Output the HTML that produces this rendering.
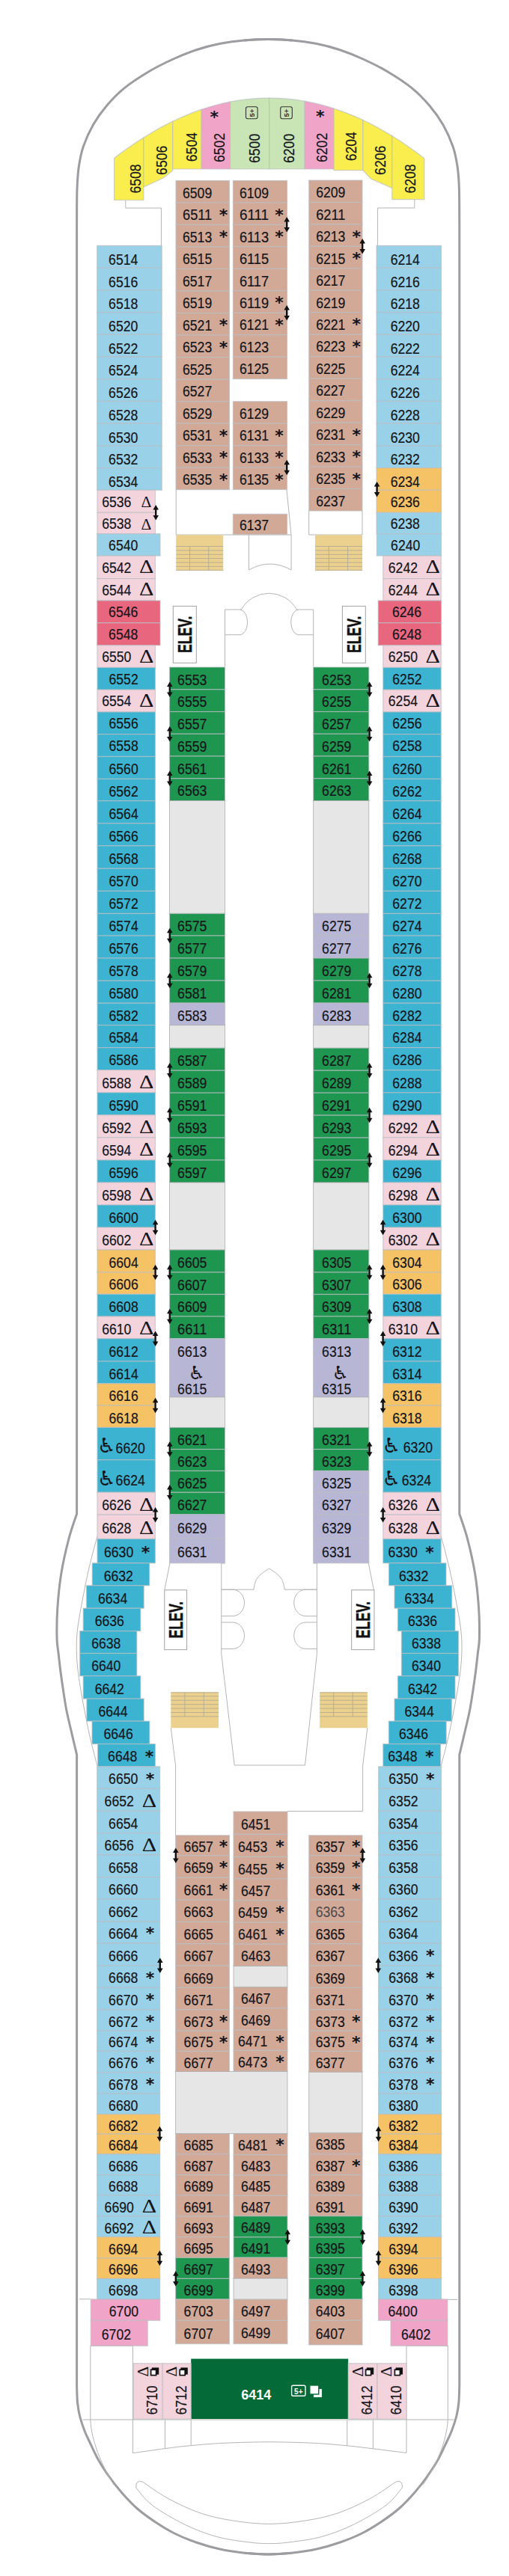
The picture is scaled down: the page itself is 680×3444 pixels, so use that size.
<!DOCTYPE html>
<html lang="en"><head><meta charset="utf-8"><title>Deck 6 plan</title>
<style>
html,body{margin:0;padding:0;background:#fff}
svg{display:block}
text{font-family:"Liberation Sans",sans-serif;fill:#15151a}
.n{font-size:20px;stroke:#15151a;stroke-width:.2px}
.dl{font-family:"Liberation Serif",serif;font-size:21.5px}
.as{font-family:"DejaVu Sans",sans-serif;font-size:22px;font-weight:bold}
.dl2{font-family:"Liberation Serif",serif;font-size:26px}
.wc{font-family:"DejaVu Sans",sans-serif;font-size:27.5px}
.wc2{font-family:"DejaVu Sans",sans-serif;font-size:25px}
.sm{font-size:9.5px;font-weight:bold;fill:#333}
.smw{font-size:10px;font-weight:bold;fill:#fff}
.wb{font-size:19px;font-weight:bold;fill:#fff}
.el{font-size:26px;font-weight:bold;fill:#111;stroke:#111;stroke-width:.5px}
.hull{fill:none;stroke:#9c9ca1;stroke-width:3}
.ln{fill:none;stroke:#b5b5b5;stroke-width:1}
.ar{fill:#111}
</style></head>
<body>
<svg width="680" height="3444" viewBox="0 0 680 3444">
<rect width="680" height="3444" fill="#fff"/>
<path class="hull" d="M390.6 53.9 C385.2 53.7 369 52.6 358.2 52.6 C347.4 52.6 336.4 53 325.8 53.9 C315.2 54.8 304.8 56.2 294.3 58.3 C283.8 60.4 273.4 63 262.9 66.5 C252.4 70 241.9 74.2 231.4 79 C220.9 83.8 210.9 88.5 200 95 C189.1 101.5 175.3 110.3 165.7 118.1 C156.1 125.9 149.1 133.6 142.2 141.7 C135.3 149.8 129.7 157.6 124.5 166.7 C119.3 175.8 114.4 186.9 111.2 196.2 C108 205.5 106.7 213.4 105.3 222.7 C103.9 232 103.5 239.3 103 252.2 C102.5 265.1 102.7 292 102.6 300 L102.6 2024 C100.8 2029.4 95.6 2043.3 92.1 2056.6 C88.6 2069.9 84.3 2088.2 81.8 2103.8 C79.2 2119.4 77.8 2135.6 76.8 2150 C75.8 2164.4 75.8 2179.8 76 2190 C76.2 2200.2 77.2 2202.6 78.2 2211.4 C79.2 2220.2 80.3 2230.9 82 2242.9 C83.7 2254.9 86.2 2272.2 88.3 2283.7 C90.4 2295.2 92.2 2301.6 94.6 2312 C97 2322.4 101.3 2340.3 102.6 2346 L102.6 3190 C102.8 3193.7 102.8 3205.3 103.5 3212 C104.2 3218.7 104.9 3223.7 106.5 3230 C108.1 3236.3 110.7 3244 113 3250 C115.3 3256 117.3 3259.7 120.3 3266 C123.3 3272.3 126.9 3280.7 131 3288 C135.1 3295.3 139.7 3302.5 145 3310 C150.3 3317.5 156.6 3325.7 163 3333 C169.4 3340.3 176.2 3347.6 183.5 3354 C190.8 3360.4 198.8 3366 207 3371.5 C215.2 3377 223.8 3382.4 233 3387 C242.2 3391.6 251.9 3395.5 262 3399 C272.1 3402.5 282.7 3405.6 293.5 3408 C304.3 3410.4 316.2 3412 327 3413.2 C337.8 3414.4 347.8 3415 358.2 3415 C368.6 3415 384.2 3413.5 389.4 3413.2"/>
<path class="hull" d="M325.8 53.9 C331.2 53.7 347.4 52.6 358.2 52.6 C369 52.6 379.9 53 390.6 53.9 C401.2 54.8 411.6 56.2 422.1 58.3 C432.6 60.4 443 63 453.5 66.5 C464 70 474.5 74.2 485 79 C495.5 83.8 505.4 88.5 516.4 95 C527.4 101.5 541.1 110.3 550.7 118.1 C560.3 125.9 567.3 133.6 574.2 141.7 C581.1 149.8 586.7 157.6 591.9 166.7 C597.1 175.8 602 186.9 605.2 196.2 C608.4 205.5 609.7 213.4 611.1 222.7 C612.5 232 613 239.3 613.4 252.2 C613.8 265.1 613.7 292 613.8 300 L613.8 2024 C615.5 2029.4 620.8 2043.3 624.3 2056.6 C627.8 2069.9 632 2088.2 634.6 2103.8 C637.2 2119.4 638.6 2135.6 639.6 2150 C640.6 2164.4 640.6 2179.8 640.4 2190 C640.2 2200.2 639.2 2202.6 638.2 2211.4 C637.2 2220.2 636.1 2230.9 634.4 2242.9 C632.7 2254.9 630.2 2272.2 628.1 2283.7 C626 2295.2 624.2 2301.6 621.8 2312 C619.4 2322.4 615.1 2340.3 613.8 2346 L613.8 3190 C613.6 3193.7 613.5 3205.3 612.9 3212 C612.2 3218.7 611.5 3223.7 609.9 3230 C608.3 3236.3 605.7 3244 603.4 3250 C601.1 3256 599.1 3259.7 596.1 3266 C593.1 3272.3 589.5 3280.7 585.4 3288 C581.3 3295.3 576.7 3302.5 571.4 3310 C566.1 3317.5 559.8 3325.7 553.4 3333 C547 3340.3 540.2 3347.6 532.9 3354 C525.6 3360.4 517.6 3366 509.4 3371.5 C501.1 3377 492.6 3382.4 483.4 3387 C474.2 3391.6 464.5 3395.5 454.4 3399 C444.3 3402.5 433.7 3405.6 422.9 3408 C412.1 3410.4 400.2 3412 389.4 3413.2 C378.6 3414.4 368.6 3415 358.2 3415 C347.8 3415 332.2 3413.5 327 3413.2"/>
<path class="ln" d="M167.8 267.5 L167.8 278.1 L215.4 278.1 L215.4 328.5"/>
<path class="ln" d="M553.8 266.6 L553.8 278 L504.6 278 L504.6 329.5"/>
<path class="ln" d="M235.2 655 L235.2 715 L389 715"/>
<path class="ln" d="M383 655 L389 715"/>
<path class="ln" d="M484 683 L484 715 L412.7 715 L412.7 683"/>
<path class="ln" d="M332.5 715 L332.5 762 Q360.8 746 389.1 762 L389.1 715"/>
<path class="ln" d="M300.5 891 L300.5 815 L322.4 815 M396.4 815 L418.7 815 L418.7 891"/>
<path class="ln" d="M322.4 815 A42.3 42.3 0 0 1 396.4 815"/>
<path class="ln" d="M300.5 848.7 L321 848.7 A10.4 16.9 0 0 0 321 815"/>
<path class="ln" d="M418.7 848.7 L398.3 848.7 A10.4 16.9 0 0 1 398.3 815"/>
<path class="ln" d="M300.4 2090 L295.8 2090 L295.8 2211.4 L313.2 2360 L407.5 2360 L423.4 2211.4 L423.4 2090 L418.8 2090"/>
<path class="ln" d="M295.8 2125.2 L339 2125.2 C341 2112 342 2108 359.6 2097 C377 2108 378 2112 380.2 2125.2 L423.4 2125.2"/>
<path class="ln" d="M295.8 2125.2 L311 2125.2 A15.5 17.7 0 0 1 311 2160.6 L295.8 2160.6"/>
<path class="ln" d="M423.4 2125.2 L408.2 2125.2 A15.5 17.7 0 0 0 408.2 2160.6 L423.4 2160.6"/>
<path class="ln" d="M295.8 2169 L311 2169 A15.5 17.7 0 0 1 311 2204.4 L295.8 2204.4"/>
<path class="ln" d="M423.4 2169 L408.2 2169 A15.5 17.7 0 0 0 408.2 2204.4 L423.4 2204.4"/>
<path class="ln" d="M226.9 2090 L219.8 2125.6"/>
<path class="ln" d="M492.3 2090 L499.4 2125.6"/>
<path class="ln" d="M228.3 2310 L234.6 2361 L234.6 2454"/>
<path class="ln" d="M490.9 2310 L484.6 2361 L484.6 2421.5 L384 2421.5"/>
<path class="ln" d="M130 2054 C129 2057.7 126.2 2067.5 124 2076 C121.8 2084.5 119.3 2094.3 117 2105 C114.7 2115.7 112.2 2128.3 110 2140 C107.8 2151.7 105.3 2165 104 2175 C102.7 2185 102.3 2191.2 102.2 2200 C102.1 2208.8 102.5 2218 103.5 2228 C104.5 2238 106.2 2248.8 108 2260 C109.8 2271.2 112.2 2283.3 114.5 2295 C116.8 2306.7 119.4 2319 122 2330 C124.6 2341 128.7 2355.8 130 2361"/>
<path class="ln" d="M589.2 2054 C590.2 2057.7 593 2067.5 595.2 2076 C597.4 2084.5 599.9 2094.3 602.2 2105 C604.5 2115.7 607 2128.3 609.2 2140 C611.4 2151.7 613.9 2165 615.2 2175 C616.5 2185 616.9 2191.2 617 2200 C617.1 2208.8 616.7 2218 615.7 2228 C614.7 2238 613 2248.8 611.2 2260 C609.4 2271.2 607 2283.3 604.7 2295 C602.4 2306.7 599.8 2319 597.2 2330 C594.6 2341 590.5 2355.8 589.2 2361"/>
<path class="ln" d="M106 3073.8 L120.8 3073.8"/>
<path class="ln" d="M598.3 3074.4 L611 3074.4"/>
<path class="ln" d="M120.8 3136.3 L120.8 3235.3 C122 3262 135 3295 152 3322"/>
<path class="ln" d="M598.3 3136.3 L598.3 3235.3 C597 3262 584 3295 565 3322"/>
<path class="ln" d="M120.8 3136.3 L177.4 3136.3 L177.4 3279.7"/>
<path class="ln" d="M598.3 3136.3 L543 3136.3 L543 3279.4"/>
<path class="ln" d="M110.5 3235 L606.5 3235"/>
<path class="ln" d="M220.5 3235 L220.5 3273.6"/>
<path class="ln" d="M255.2 3235 L255.2 3269.6"/>
<path class="ln" d="M463.8 3235 L463.8 3269.8"/>
<path class="ln" d="M498.4 3235 L498.4 3273.8"/>
<path class="ln" d="M177.4 3279.7 C184.6 3278.7 207.5 3275.3 220.5 3273.6 C233.5 3271.9 241.9 3270.8 255.2 3269.6 C268.4 3268.4 282.6 3267.1 300 3266.3 C317.4 3265.5 339.8 3264.8 359.6 3264.8 C379.4 3264.8 401.6 3265.5 419 3266.3 C436.4 3267.1 450.6 3268.6 463.8 3269.8 C477 3271.1 485.2 3272.2 498.4 3273.8 C511.6 3275.4 535.6 3278.5 543 3279.4"/>
<path class="ln" d="M190.3 3318 C196.1 3321.8 211.9 3333.5 224.8 3340.5 C237.8 3347.5 253.6 3355.1 268 3360 C282.4 3364.9 296 3367.6 311.3 3370 C326.6 3372.4 343.5 3374.4 359.6 3374.4 C375.7 3374.4 392.6 3372.4 407.9 3370 C423.2 3367.6 436.8 3364.9 451.2 3360 C465.6 3355.1 481.5 3347.5 494.4 3340.5 C507.4 3333.5 523.2 3321.8 528.9 3318 Q538.2 3315 537.4 3326 C533.8 3329.9 526.8 3341 516 3349.2 C505.2 3357.4 487.2 3367.9 472.8 3375 C458.4 3382.1 443.9 3387.5 429.5 3391.5 C415.1 3395.5 398 3397.4 386.3 3398.9 C374.7 3400.4 368.5 3400.6 359.6 3400.6 C350.7 3400.6 344.5 3400.4 332.9 3398.9 C321.2 3397.4 304.1 3395.5 289.7 3391.5 C275.3 3387.5 260.8 3382.1 246.4 3375 C232 3367.9 214 3357.4 203.2 3349.2 C192.4 3341 185.4 3329.9 181.8 3326 Q181 3315 190.3 3318 Z"/>
<polygon points="152.5,211.6 162.3,204.1 172.2,197 182.1,190.3 191.9,183.9 191.9,267.5 152.5,267.5" fill="#f9ee4d" stroke="#b9bec3" stroke-width="1.2" stroke-opacity="0.7"/>
<polygon points="191.9,183.9 201.6,177.9 211.4,172.3 221.1,167.1 230.8,162.2 230.8,227.9 218,238 191.9,250" fill="#f9ee4d" stroke="#b9bec3" stroke-width="1.2" stroke-opacity="0.7"/>
<polygon points="230.8,162.2 240.4,157.7 250,153.6 259.5,149.8 269.1,146.4 269.1,226 230.8,226" fill="#f9ee4d" stroke="#b9bec3" stroke-width="1.2" stroke-opacity="0.7"/>
<polygon points="269.1,146.4 278.7,143.3 288.4,140.5 298,138.1 307.6,136.1 307.6,226 269.1,226" fill="#f0a5c8" stroke="#b9bec3" stroke-width="1.2" stroke-opacity="0.7"/>
<polygon points="307.6,136.1 320.6,133.9 333.6,132.3 346.6,131.3 359.6,131 359.6,226 307.6,226" fill="#c9e4b5" stroke="#b9bec3" stroke-width="1.2" stroke-opacity="0.7"/>
<polygon points="359.6,131 371.5,131.3 383.4,132.1 395.2,133.4 407.1,135.2 407.1,226 359.6,226" fill="#c9e4b5" stroke="#b9bec3" stroke-width="1.2" stroke-opacity="0.7"/>
<polygon points="407.1,135.2 416.8,137.2 426.6,139.4 436.3,142.1 446,145 446,226 407.1,226" fill="#f0a5c8" stroke="#b9bec3" stroke-width="1.2" stroke-opacity="0.7"/>
<polygon points="446,145 455.7,148.4 465.4,152.1 475.2,156.1 484.9,160.5 484.9,227.7 446,227.7" fill="#f9ee4d" stroke="#b9bec3" stroke-width="1.2" stroke-opacity="0.7"/>
<polygon points="484.9,160.5 494.6,165.3 504.3,170.4 514.1,175.9 523.8,181.7 523.8,251.4 495.5,239 484.9,227.7" fill="#f9ee4d" stroke="#b9bec3" stroke-width="1.2" stroke-opacity="0.7"/>
<polygon points="523.8,181.7 534.6,188.6 545.3,195.9 556.1,203.6 566.9,211.8 566.9,266.6 523.8,266.6" fill="#f9ee4d" stroke="#b9bec3" stroke-width="1.2" stroke-opacity="0.7"/>
<text class="n" text-anchor="middle" transform="translate(187.5 239) rotate(-90)" x="0" y="0" textLength="39.2" lengthAdjust="spacingAndGlyphs">6508</text>
<text class="n" text-anchor="middle" transform="translate(222.8 214.3) rotate(-90)" x="0" y="0" textLength="39.2" lengthAdjust="spacingAndGlyphs">6506</text>
<text class="n" text-anchor="middle" transform="translate(262.8 196.6) rotate(-90)" x="0" y="0" textLength="39.2" lengthAdjust="spacingAndGlyphs">6504</text>
<text class="n" text-anchor="middle" transform="translate(299.9 197.5) rotate(-90)" x="0" y="0" textLength="39.2" lengthAdjust="spacingAndGlyphs">6502</text>
<text class="n" text-anchor="middle" transform="translate(347.1 198.4) rotate(-90)" x="0" y="0" textLength="39.2" lengthAdjust="spacingAndGlyphs">6500</text>
<text class="n" text-anchor="middle" transform="translate(392.5 198.4) rotate(-90)" x="0" y="0" textLength="39.2" lengthAdjust="spacingAndGlyphs">6200</text>
<text class="n" text-anchor="middle" transform="translate(436.8 197.4) rotate(-90)" x="0" y="0" textLength="39.2" lengthAdjust="spacingAndGlyphs">6202</text>
<text class="n" text-anchor="middle" transform="translate(475.8 195.7) rotate(-90)" x="0" y="0" textLength="39.2" lengthAdjust="spacingAndGlyphs">6204</text>
<text class="n" text-anchor="middle" transform="translate(514.7 214.3) rotate(-90)" x="0" y="0" textLength="39.2" lengthAdjust="spacingAndGlyphs">6206</text>
<text class="n" text-anchor="middle" transform="translate(554.6 239) rotate(-90)" x="0" y="0" textLength="39.2" lengthAdjust="spacingAndGlyphs">6208</text>
<text class="as" x="286.2" y="163.5" text-anchor="middle">*</text>
<text class="as" x="427.8" y="162.5" text-anchor="middle">*</text>
<rect x="328.5" y="142.8" width="15.6" height="16" rx="2.5" fill="none" stroke="#333" stroke-width="1.1"/>
<text class="sm" text-anchor="middle" transform="translate(339.8 151) rotate(-90)" x="0" y="0">5+</text>
<rect x="374.7" y="142.8" width="15.6" height="16" rx="2.5" fill="none" stroke="#333" stroke-width="1.1"/>
<text class="sm" text-anchor="middle" transform="translate(386 151) rotate(-90)" x="0" y="0">5+</text>
<rect x="129.7" y="328.4" width="86.5" height="29.7" fill="#98d1e8" stroke="#b9bec3" stroke-width="1.2" stroke-opacity="0.7"/>
<text class="n" x="145.1" y="353.8" textLength="39.2" lengthAdjust="spacingAndGlyphs">6514</text>
<rect x="129.7" y="358.1" width="86.5" height="29.7" fill="#98d1e8" stroke="#b9bec3" stroke-width="1.2" stroke-opacity="0.7"/>
<text class="n" x="145.1" y="383.5" textLength="39.2" lengthAdjust="spacingAndGlyphs">6516</text>
<rect x="129.7" y="387.8" width="86.5" height="29.7" fill="#98d1e8" stroke="#b9bec3" stroke-width="1.2" stroke-opacity="0.7"/>
<text class="n" x="145.1" y="413.2" textLength="39.2" lengthAdjust="spacingAndGlyphs">6518</text>
<rect x="129.7" y="417.6" width="86.5" height="29.7" fill="#98d1e8" stroke="#b9bec3" stroke-width="1.2" stroke-opacity="0.7"/>
<text class="n" x="145.1" y="442.9" textLength="39.2" lengthAdjust="spacingAndGlyphs">6520</text>
<rect x="129.7" y="447.3" width="86.5" height="29.7" fill="#98d1e8" stroke="#b9bec3" stroke-width="1.2" stroke-opacity="0.7"/>
<text class="n" x="145.1" y="472.6" textLength="39.2" lengthAdjust="spacingAndGlyphs">6522</text>
<rect x="129.7" y="477" width="86.5" height="29.7" fill="#98d1e8" stroke="#b9bec3" stroke-width="1.2" stroke-opacity="0.7"/>
<text class="n" x="145.1" y="502.4" textLength="39.2" lengthAdjust="spacingAndGlyphs">6524</text>
<rect x="129.7" y="506.7" width="86.5" height="29.7" fill="#98d1e8" stroke="#b9bec3" stroke-width="1.2" stroke-opacity="0.7"/>
<text class="n" x="145.1" y="532.1" textLength="39.2" lengthAdjust="spacingAndGlyphs">6526</text>
<rect x="129.7" y="536.4" width="86.5" height="29.7" fill="#98d1e8" stroke="#b9bec3" stroke-width="1.2" stroke-opacity="0.7"/>
<text class="n" x="145.1" y="561.8" textLength="39.2" lengthAdjust="spacingAndGlyphs">6528</text>
<rect x="129.7" y="566.2" width="86.5" height="29.7" fill="#98d1e8" stroke="#b9bec3" stroke-width="1.2" stroke-opacity="0.7"/>
<text class="n" x="145.1" y="591.5" textLength="39.2" lengthAdjust="spacingAndGlyphs">6530</text>
<rect x="129.7" y="595.9" width="86.5" height="29.7" fill="#98d1e8" stroke="#b9bec3" stroke-width="1.2" stroke-opacity="0.7"/>
<text class="n" x="145.1" y="621.2" textLength="39.2" lengthAdjust="spacingAndGlyphs">6532</text>
<rect x="129.7" y="625.6" width="86.5" height="29.7" fill="#98d1e8" stroke="#b9bec3" stroke-width="1.2" stroke-opacity="0.7"/>
<text class="n" x="145.1" y="651" textLength="39.2" lengthAdjust="spacingAndGlyphs">6534</text>
<rect x="130" y="655.3" width="77.4" height="30" fill="#f3d3dc" stroke="#b9bec3" stroke-width="1.2" stroke-opacity="0.7"/>
<text class="n" x="136.2" y="677.5" textLength="39.2" lengthAdjust="spacingAndGlyphs">6536</text>
<text class="dl" x="188.6" y="678.3">&#916;</text>
<rect x="130" y="685.3" width="77.4" height="28.4" fill="#f3d3dc" stroke="#b9bec3" stroke-width="1.2" stroke-opacity="0.7"/>
<text class="n" x="136.2" y="706.7" textLength="39.2" lengthAdjust="spacingAndGlyphs">6538</text>
<text class="dl" x="188.6" y="707.5">&#916;</text>
<rect x="129.7" y="713.7" width="84.3" height="29.4" fill="#98d1e8" stroke="#b9bec3" stroke-width="1.2" stroke-opacity="0.7"/>
<text class="n" x="145.1" y="735.6" textLength="39.2" lengthAdjust="spacingAndGlyphs">6540</text>
<rect x="130" y="743.1" width="77.4" height="30.5" fill="#f3d3dc" stroke="#b9bec3" stroke-width="1.2" stroke-opacity="0.7"/>
<text class="n" x="136.2" y="765.6" textLength="39.2" lengthAdjust="spacingAndGlyphs">6542</text>
<text class="dl2" x="185.9" y="766.2" textLength="19.4" lengthAdjust="spacingAndGlyphs">&#916;</text>
<rect x="130" y="773.6" width="77.4" height="29.4" fill="#f3d3dc" stroke="#b9bec3" stroke-width="1.2" stroke-opacity="0.7"/>
<text class="n" x="136.2" y="795.5" textLength="39.2" lengthAdjust="spacingAndGlyphs">6544</text>
<text class="dl2" x="185.9" y="796.1" textLength="19.4" lengthAdjust="spacingAndGlyphs">&#916;</text>
<rect x="129.7" y="803" width="84.3" height="29.7" fill="#e8677f" stroke="#b9bec3" stroke-width="1.2" stroke-opacity="0.7"/>
<text class="n" x="145.1" y="825.1" textLength="39.2" lengthAdjust="spacingAndGlyphs">6546</text>
<rect x="129.7" y="832.7" width="84.3" height="30.1" fill="#e8677f" stroke="#b9bec3" stroke-width="1.2" stroke-opacity="0.7"/>
<text class="n" x="145.1" y="855" textLength="39.2" lengthAdjust="spacingAndGlyphs">6548</text>
<rect x="130" y="862.8" width="77.4" height="29.7" fill="#f3d3dc" stroke="#b9bec3" stroke-width="1.2" stroke-opacity="0.7"/>
<text class="n" x="136.2" y="884.9" textLength="39.2" lengthAdjust="spacingAndGlyphs">6550</text>
<text class="dl2" x="185.9" y="885.5" textLength="19.4" lengthAdjust="spacingAndGlyphs">&#916;</text>
<rect x="130" y="892.5" width="77.4" height="29.7" fill="#3cb3d0" stroke="#b9bec3" stroke-width="1.2" stroke-opacity="0.7"/>
<text class="n" x="145.5" y="914.6" textLength="39.2" lengthAdjust="spacingAndGlyphs">6552</text>
<rect x="130" y="922.2" width="77.4" height="29.7" fill="#f3d3dc" stroke="#b9bec3" stroke-width="1.2" stroke-opacity="0.7"/>
<text class="n" x="136.2" y="944.2" textLength="39.2" lengthAdjust="spacingAndGlyphs">6554</text>
<text class="dl2" x="185.9" y="944.9" textLength="19.4" lengthAdjust="spacingAndGlyphs">&#916;</text>
<rect x="130" y="951.9" width="77.4" height="29.7" fill="#3cb3d0" stroke="#b9bec3" stroke-width="1.2" stroke-opacity="0.7"/>
<text class="n" x="145.5" y="974" textLength="39.2" lengthAdjust="spacingAndGlyphs">6556</text>
<rect x="130" y="981.6" width="77.4" height="29.9" fill="#3cb3d0" stroke="#b9bec3" stroke-width="1.2" stroke-opacity="0.7"/>
<text class="n" x="145.5" y="1003.8" textLength="39.2" lengthAdjust="spacingAndGlyphs">6558</text>
<rect x="130" y="1011.5" width="77.4" height="29.9" fill="#3cb3d0" stroke="#b9bec3" stroke-width="1.2" stroke-opacity="0.7"/>
<text class="n" x="145.5" y="1035.2" textLength="39.2" lengthAdjust="spacingAndGlyphs">6560</text>
<rect x="130" y="1041.4" width="77.4" height="29.3" fill="#3cb3d0" stroke="#b9bec3" stroke-width="1.2" stroke-opacity="0.7"/>
<text class="n" x="145.5" y="1064.8" textLength="39.2" lengthAdjust="spacingAndGlyphs">6562</text>
<rect x="130" y="1070.7" width="77.4" height="30.1" fill="#3cb3d0" stroke="#b9bec3" stroke-width="1.2" stroke-opacity="0.7"/>
<text class="n" x="145.5" y="1094.5" textLength="39.2" lengthAdjust="spacingAndGlyphs">6564</text>
<rect x="130" y="1100.8" width="77.4" height="30" fill="#3cb3d0" stroke="#b9bec3" stroke-width="1.2" stroke-opacity="0.7"/>
<text class="n" x="145.5" y="1124.5" textLength="39.2" lengthAdjust="spacingAndGlyphs">6566</text>
<rect x="130" y="1130.8" width="77.4" height="30.4" fill="#3cb3d0" stroke="#b9bec3" stroke-width="1.2" stroke-opacity="0.7"/>
<text class="n" x="145.5" y="1154.7" textLength="39.2" lengthAdjust="spacingAndGlyphs">6568</text>
<rect x="130" y="1161.2" width="77.4" height="30.1" fill="#3cb3d0" stroke="#b9bec3" stroke-width="1.2" stroke-opacity="0.7"/>
<text class="n" x="145.5" y="1185" textLength="39.2" lengthAdjust="spacingAndGlyphs">6570</text>
<rect x="130" y="1191.3" width="77.4" height="30.1" fill="#3cb3d0" stroke="#b9bec3" stroke-width="1.2" stroke-opacity="0.7"/>
<text class="n" x="145.5" y="1215" textLength="39.2" lengthAdjust="spacingAndGlyphs">6572</text>
<rect x="130" y="1221.4" width="77.4" height="29.6" fill="#3cb3d0" stroke="#b9bec3" stroke-width="1.2" stroke-opacity="0.7"/>
<text class="n" x="145.5" y="1244.9" textLength="39.2" lengthAdjust="spacingAndGlyphs">6574</text>
<rect x="130" y="1251" width="77.4" height="30" fill="#3cb3d0" stroke="#b9bec3" stroke-width="1.2" stroke-opacity="0.7"/>
<text class="n" x="145.5" y="1274.7" textLength="39.2" lengthAdjust="spacingAndGlyphs">6576</text>
<rect x="130" y="1281" width="77.4" height="30.2" fill="#3cb3d0" stroke="#b9bec3" stroke-width="1.2" stroke-opacity="0.7"/>
<text class="n" x="145.5" y="1304.8" textLength="39.2" lengthAdjust="spacingAndGlyphs">6578</text>
<rect x="130" y="1311.2" width="77.4" height="30" fill="#3cb3d0" stroke="#b9bec3" stroke-width="1.2" stroke-opacity="0.7"/>
<text class="n" x="145.5" y="1334.9" textLength="39.2" lengthAdjust="spacingAndGlyphs">6580</text>
<rect x="130" y="1341.2" width="77.4" height="29.4" fill="#3cb3d0" stroke="#b9bec3" stroke-width="1.2" stroke-opacity="0.7"/>
<text class="n" x="145.5" y="1364.6" textLength="39.2" lengthAdjust="spacingAndGlyphs">6582</text>
<rect x="130" y="1370.6" width="77.4" height="30.1" fill="#3cb3d0" stroke="#b9bec3" stroke-width="1.2" stroke-opacity="0.7"/>
<text class="n" x="145.5" y="1394.4" textLength="39.2" lengthAdjust="spacingAndGlyphs">6584</text>
<rect x="130" y="1400.7" width="77.4" height="30" fill="#3cb3d0" stroke="#b9bec3" stroke-width="1.2" stroke-opacity="0.7"/>
<text class="n" x="145.5" y="1424.4" textLength="39.2" lengthAdjust="spacingAndGlyphs">6586</text>
<rect x="130" y="1430.7" width="77.4" height="30.1" fill="#f3d3dc" stroke="#b9bec3" stroke-width="1.2" stroke-opacity="0.7"/>
<text class="n" x="136.2" y="1454.5" textLength="39.2" lengthAdjust="spacingAndGlyphs">6588</text>
<text class="dl2" x="185.9" y="1455" textLength="19.4" lengthAdjust="spacingAndGlyphs">&#916;</text>
<rect x="130" y="1460.8" width="77.4" height="30" fill="#3cb3d0" stroke="#b9bec3" stroke-width="1.2" stroke-opacity="0.7"/>
<text class="n" x="145.5" y="1484.5" textLength="39.2" lengthAdjust="spacingAndGlyphs">6590</text>
<rect x="130" y="1490.8" width="77.4" height="30.1" fill="#f3d3dc" stroke="#b9bec3" stroke-width="1.2" stroke-opacity="0.7"/>
<text class="n" x="136.2" y="1514.5" textLength="39.2" lengthAdjust="spacingAndGlyphs">6592</text>
<text class="dl2" x="185.9" y="1515.1" textLength="19.4" lengthAdjust="spacingAndGlyphs">&#916;</text>
<rect x="130" y="1520.9" width="77.4" height="30.1" fill="#f3d3dc" stroke="#b9bec3" stroke-width="1.2" stroke-opacity="0.7"/>
<text class="n" x="136.2" y="1544.7" textLength="39.2" lengthAdjust="spacingAndGlyphs">6594</text>
<text class="dl2" x="185.9" y="1545.2" textLength="19.4" lengthAdjust="spacingAndGlyphs">&#916;</text>
<rect x="130" y="1551" width="77.4" height="30" fill="#3cb3d0" stroke="#b9bec3" stroke-width="1.2" stroke-opacity="0.7"/>
<text class="n" x="145.5" y="1574.7" textLength="39.2" lengthAdjust="spacingAndGlyphs">6596</text>
<rect x="130" y="1581" width="77.4" height="30" fill="#f3d3dc" stroke="#b9bec3" stroke-width="1.2" stroke-opacity="0.7"/>
<text class="n" x="136.2" y="1604.7" textLength="39.2" lengthAdjust="spacingAndGlyphs">6598</text>
<text class="dl2" x="185.9" y="1605.3" textLength="19.4" lengthAdjust="spacingAndGlyphs">&#916;</text>
<rect x="130" y="1611" width="77.4" height="30" fill="#3cb3d0" stroke="#b9bec3" stroke-width="1.2" stroke-opacity="0.7"/>
<text class="n" x="145.5" y="1634.7" textLength="39.2" lengthAdjust="spacingAndGlyphs">6600</text>
<rect x="130" y="1641" width="77.4" height="30" fill="#f3d3dc" stroke="#b9bec3" stroke-width="1.2" stroke-opacity="0.7"/>
<text class="n" x="136.2" y="1664.7" textLength="39.2" lengthAdjust="spacingAndGlyphs">6602</text>
<text class="dl2" x="185.9" y="1665.3" textLength="19.4" lengthAdjust="spacingAndGlyphs">&#916;</text>
<rect x="130" y="1671" width="77.4" height="30" fill="#f5c265" stroke="#b9bec3" stroke-width="1.2" stroke-opacity="0.7"/>
<text class="n" x="145.5" y="1694.7" textLength="39.2" lengthAdjust="spacingAndGlyphs">6604</text>
<rect x="130" y="1701" width="77.4" height="29.3" fill="#f5c265" stroke="#b9bec3" stroke-width="1.2" stroke-opacity="0.7"/>
<text class="n" x="145.5" y="1724.4" textLength="39.2" lengthAdjust="spacingAndGlyphs">6606</text>
<rect x="130" y="1730.3" width="77.4" height="29.7" fill="#3cb3d0" stroke="#b9bec3" stroke-width="1.2" stroke-opacity="0.7"/>
<text class="n" x="145.5" y="1753.9" textLength="39.2" lengthAdjust="spacingAndGlyphs">6608</text>
<rect x="130" y="1760" width="77.4" height="29.7" fill="#f3d3dc" stroke="#b9bec3" stroke-width="1.2" stroke-opacity="0.7"/>
<text class="n" x="136.2" y="1783.5" textLength="39.2" lengthAdjust="spacingAndGlyphs">6610</text>
<text class="dl2" x="185.9" y="1784.1" textLength="19.4" lengthAdjust="spacingAndGlyphs">&#916;</text>
<rect x="130" y="1789.7" width="77.4" height="30.3" fill="#3cb3d0" stroke="#b9bec3" stroke-width="1.2" stroke-opacity="0.7"/>
<text class="n" x="145.5" y="1813.5" textLength="39.2" lengthAdjust="spacingAndGlyphs">6612</text>
<rect x="130" y="1820" width="77.4" height="29.8" fill="#3cb3d0" stroke="#b9bec3" stroke-width="1.2" stroke-opacity="0.7"/>
<text class="n" x="145.5" y="1843.6" textLength="39.2" lengthAdjust="spacingAndGlyphs">6614</text>
<rect x="130" y="1849.8" width="77.4" height="29.2" fill="#f5c265" stroke="#b9bec3" stroke-width="1.2" stroke-opacity="0.7"/>
<text class="n" x="145.5" y="1873.1" textLength="39.2" lengthAdjust="spacingAndGlyphs">6616</text>
<rect x="130" y="1879" width="77.4" height="29.5" fill="#f5c265" stroke="#b9bec3" stroke-width="1.2" stroke-opacity="0.7"/>
<text class="n" x="145.5" y="1902.5" textLength="39.2" lengthAdjust="spacingAndGlyphs">6618</text>
<rect x="130" y="1908.5" width="77.4" height="43.3" fill="#3cb3d0" stroke="#b9bec3" stroke-width="1.2" stroke-opacity="0.7"/>
<text class="wc" x="129.9" y="1942.2">&#9855;</text>
<text class="n" x="154.6" y="1942.5" textLength="39.2" lengthAdjust="spacingAndGlyphs">6620</text>
<rect x="130" y="1951.8" width="77.4" height="43.4" fill="#3cb3d0" stroke="#b9bec3" stroke-width="1.2" stroke-opacity="0.7"/>
<text class="wc" x="129.9" y="1985.5">&#9855;</text>
<text class="n" x="154.6" y="1985.8" textLength="39.2" lengthAdjust="spacingAndGlyphs">6624</text>
<rect x="130" y="1995.2" width="77.4" height="30" fill="#f3d3dc" stroke="#b9bec3" stroke-width="1.2" stroke-opacity="0.7"/>
<text class="n" x="136.2" y="2018.9" textLength="39.2" lengthAdjust="spacingAndGlyphs">6626</text>
<text class="dl2" x="185.9" y="2019.5" textLength="19.4" lengthAdjust="spacingAndGlyphs">&#916;</text>
<rect x="130" y="2025.2" width="77.4" height="32.3" fill="#f3d3dc" stroke="#b9bec3" stroke-width="1.2" stroke-opacity="0.7"/>
<text class="n" x="136.2" y="2050" textLength="39.2" lengthAdjust="spacingAndGlyphs">6628</text>
<text class="dl2" x="185.9" y="2050.6" textLength="19.4" lengthAdjust="spacingAndGlyphs">&#916;</text>
<rect x="130" y="2057.5" width="77.4" height="32.3" fill="#3cb3d0" stroke="#b9bec3" stroke-width="1.2" stroke-opacity="0.7"/>
<text class="n" x="139" y="2082.3" textLength="39.2" lengthAdjust="spacingAndGlyphs">6630</text>
<text class="as" x="194.5" y="2082.5" text-anchor="middle">*</text>
<rect x="123.2" y="2089.8" width="76.5" height="30" fill="#3cb3d0" stroke="#b9bec3" stroke-width="1.2" stroke-opacity="0.7"/>
<text class="n" x="138.7" y="2113.5" textLength="39.2" lengthAdjust="spacingAndGlyphs">6632</text>
<rect x="115.5" y="2119.8" width="76.7" height="30.4" fill="#3cb3d0" stroke="#b9bec3" stroke-width="1.2" stroke-opacity="0.7"/>
<text class="n" x="131" y="2143.7" textLength="39.2" lengthAdjust="spacingAndGlyphs">6634</text>
<rect x="111.2" y="2150.2" width="76.6" height="30.4" fill="#3cb3d0" stroke="#b9bec3" stroke-width="1.2" stroke-opacity="0.7"/>
<text class="n" x="126.7" y="2174.1" textLength="39.2" lengthAdjust="spacingAndGlyphs">6636</text>
<rect x="106.7" y="2180.6" width="76.1" height="29.9" fill="#3cb3d0" stroke="#b9bec3" stroke-width="1.2" stroke-opacity="0.7"/>
<text class="n" x="122.2" y="2204.2" textLength="39.2" lengthAdjust="spacingAndGlyphs">6638</text>
<rect x="106.7" y="2210.5" width="76.1" height="30.2" fill="#3cb3d0" stroke="#b9bec3" stroke-width="1.2" stroke-opacity="0.7"/>
<text class="n" x="122.2" y="2234.3" textLength="39.2" lengthAdjust="spacingAndGlyphs">6640</text>
<rect x="111.2" y="2240.7" width="76.6" height="30.4" fill="#3cb3d0" stroke="#b9bec3" stroke-width="1.2" stroke-opacity="0.7"/>
<text class="n" x="126.7" y="2264.6" textLength="39.2" lengthAdjust="spacingAndGlyphs">6642</text>
<rect x="115.9" y="2271.1" width="76.3" height="30" fill="#3cb3d0" stroke="#b9bec3" stroke-width="1.2" stroke-opacity="0.7"/>
<text class="n" x="131.4" y="2294.8" textLength="39.2" lengthAdjust="spacingAndGlyphs">6644</text>
<rect x="123" y="2301.1" width="76.8" height="30.5" fill="#3cb3d0" stroke="#b9bec3" stroke-width="1.2" stroke-opacity="0.7"/>
<text class="n" x="138.5" y="2325" textLength="39.2" lengthAdjust="spacingAndGlyphs">6646</text>
<rect x="130.6" y="2331.6" width="76.8" height="30.2" fill="#3cb3d0" stroke="#b9bec3" stroke-width="1.2" stroke-opacity="0.7"/>
<text class="n" x="144.1" y="2355.4" textLength="39.2" lengthAdjust="spacingAndGlyphs">6648</text>
<text class="as" x="199.6" y="2355.5" text-anchor="middle">*</text>
<rect x="129.7" y="2361.8" width="83.9" height="29.7" fill="#98d1e8" stroke="#b9bec3" stroke-width="1.2" stroke-opacity="0.7"/>
<text class="n" x="145.1" y="2385.3" textLength="39.2" lengthAdjust="spacingAndGlyphs">6650</text>
<text class="as" x="200.6" y="2385.5" text-anchor="middle">*</text>
<rect x="129.7" y="2391.5" width="83.9" height="29.8" fill="#98d1e8" stroke="#b9bec3" stroke-width="1.2" stroke-opacity="0.7"/>
<text class="n" x="139.6" y="2415.1" textLength="39.2" lengthAdjust="spacingAndGlyphs">6652</text>
<text class="dl2" x="189.8" y="2415.7" textLength="19.4" lengthAdjust="spacingAndGlyphs">&#916;</text>
<rect x="129.7" y="2421.3" width="83.9" height="29.4" fill="#98d1e8" stroke="#b9bec3" stroke-width="1.2" stroke-opacity="0.7"/>
<text class="n" x="145.1" y="2444.7" textLength="39.2" lengthAdjust="spacingAndGlyphs">6654</text>
<rect x="129.7" y="2450.7" width="83.9" height="29.3" fill="#98d1e8" stroke="#b9bec3" stroke-width="1.2" stroke-opacity="0.7"/>
<text class="n" x="139.6" y="2474" textLength="39.2" lengthAdjust="spacingAndGlyphs">6656</text>
<text class="dl2" x="189.8" y="2474.6" textLength="19.4" lengthAdjust="spacingAndGlyphs">&#916;</text>
<rect x="129.7" y="2480" width="83.9" height="29.7" fill="#98d1e8" stroke="#b9bec3" stroke-width="1.2" stroke-opacity="0.7"/>
<text class="n" x="145.1" y="2503.5" textLength="39.2" lengthAdjust="spacingAndGlyphs">6658</text>
<rect x="129.7" y="2509.7" width="83.9" height="29.3" fill="#98d1e8" stroke="#b9bec3" stroke-width="1.2" stroke-opacity="0.7"/>
<text class="n" x="145.1" y="2533" textLength="39.2" lengthAdjust="spacingAndGlyphs">6660</text>
<rect x="129.7" y="2539" width="83.9" height="29.8" fill="#98d1e8" stroke="#b9bec3" stroke-width="1.2" stroke-opacity="0.7"/>
<text class="n" x="145.1" y="2562.6" textLength="39.2" lengthAdjust="spacingAndGlyphs">6662</text>
<rect x="129.7" y="2568.8" width="83.9" height="29.2" fill="#98d1e8" stroke="#b9bec3" stroke-width="1.2" stroke-opacity="0.7"/>
<text class="n" x="145.1" y="2592.1" textLength="39.2" lengthAdjust="spacingAndGlyphs">6664</text>
<text class="as" x="200.6" y="2592.2" text-anchor="middle">*</text>
<rect x="129.7" y="2598" width="83.9" height="29.8" fill="#98d1e8" stroke="#b9bec3" stroke-width="1.2" stroke-opacity="0.7"/>
<text class="n" x="145.1" y="2621.6" textLength="39.2" lengthAdjust="spacingAndGlyphs">6666</text>
<rect x="129.7" y="2627.8" width="83.9" height="29.7" fill="#98d1e8" stroke="#b9bec3" stroke-width="1.2" stroke-opacity="0.7"/>
<text class="n" x="145.1" y="2651.3" textLength="39.2" lengthAdjust="spacingAndGlyphs">6668</text>
<text class="as" x="200.6" y="2651.5" text-anchor="middle">*</text>
<rect x="129.7" y="2657.5" width="83.9" height="29.4" fill="#98d1e8" stroke="#b9bec3" stroke-width="1.2" stroke-opacity="0.7"/>
<text class="n" x="145.1" y="2680.9" textLength="39.2" lengthAdjust="spacingAndGlyphs">6670</text>
<text class="as" x="200.6" y="2681" text-anchor="middle">*</text>
<rect x="129.7" y="2686.9" width="83.9" height="28.1" fill="#98d1e8" stroke="#b9bec3" stroke-width="1.2" stroke-opacity="0.7"/>
<text class="n" x="145.1" y="2709.6" textLength="39.2" lengthAdjust="spacingAndGlyphs">6672</text>
<text class="as" x="200.6" y="2709.8" text-anchor="middle">*</text>
<rect x="129.7" y="2715" width="83.9" height="27.4" fill="#98d1e8" stroke="#b9bec3" stroke-width="1.2" stroke-opacity="0.7"/>
<text class="n" x="145.1" y="2737.4" textLength="39.2" lengthAdjust="spacingAndGlyphs">6674</text>
<text class="as" x="200.6" y="2737.5" text-anchor="middle">*</text>
<rect x="129.7" y="2742.4" width="83.9" height="28.3" fill="#98d1e8" stroke="#b9bec3" stroke-width="1.2" stroke-opacity="0.7"/>
<text class="n" x="145.1" y="2765.2" textLength="39.2" lengthAdjust="spacingAndGlyphs">6676</text>
<text class="as" x="200.6" y="2765.4" text-anchor="middle">*</text>
<rect x="129.7" y="2770.7" width="83.9" height="28.3" fill="#98d1e8" stroke="#b9bec3" stroke-width="1.2" stroke-opacity="0.7"/>
<text class="n" x="145.1" y="2793.5" textLength="39.2" lengthAdjust="spacingAndGlyphs">6678</text>
<text class="as" x="200.6" y="2793.7" text-anchor="middle">*</text>
<rect x="129.7" y="2799" width="83.9" height="27.6" fill="#98d1e8" stroke="#b9bec3" stroke-width="1.2" stroke-opacity="0.7"/>
<text class="n" x="145.1" y="2821.5" textLength="39.2" lengthAdjust="spacingAndGlyphs">6680</text>
<rect x="129.7" y="2826.6" width="83.9" height="26.4" fill="#f5c265" stroke="#b9bec3" stroke-width="1.2" stroke-opacity="0.7"/>
<text class="n" x="145.1" y="2848.5" textLength="39.2" lengthAdjust="spacingAndGlyphs">6682</text>
<rect x="129.7" y="2853" width="83.9" height="27" fill="#f5c265" stroke="#b9bec3" stroke-width="1.2" stroke-opacity="0.7"/>
<text class="n" x="145.1" y="2875.2" textLength="39.2" lengthAdjust="spacingAndGlyphs">6684</text>
<rect x="129.7" y="2880" width="83.9" height="27.6" fill="#98d1e8" stroke="#b9bec3" stroke-width="1.2" stroke-opacity="0.7"/>
<text class="n" x="145.1" y="2902.5" textLength="39.2" lengthAdjust="spacingAndGlyphs">6686</text>
<rect x="129.7" y="2907.6" width="83.9" height="27.4" fill="#98d1e8" stroke="#b9bec3" stroke-width="1.2" stroke-opacity="0.7"/>
<text class="n" x="145.1" y="2930" textLength="39.2" lengthAdjust="spacingAndGlyphs">6688</text>
<rect x="129.7" y="2935" width="83.9" height="28" fill="#98d1e8" stroke="#b9bec3" stroke-width="1.2" stroke-opacity="0.7"/>
<text class="n" x="139.6" y="2957.7" textLength="39.2" lengthAdjust="spacingAndGlyphs">6690</text>
<text class="dl2" x="189.8" y="2958.3" textLength="19.4" lengthAdjust="spacingAndGlyphs">&#916;</text>
<rect x="129.7" y="2963" width="83.9" height="27.7" fill="#98d1e8" stroke="#b9bec3" stroke-width="1.2" stroke-opacity="0.7"/>
<text class="n" x="139.6" y="2985.5" textLength="39.2" lengthAdjust="spacingAndGlyphs">6692</text>
<text class="dl2" x="189.8" y="2986.1" textLength="19.4" lengthAdjust="spacingAndGlyphs">&#916;</text>
<rect x="129.7" y="2990.7" width="83.9" height="28.3" fill="#f5c265" stroke="#b9bec3" stroke-width="1.2" stroke-opacity="0.7"/>
<text class="n" x="145.1" y="3013.5" textLength="39.2" lengthAdjust="spacingAndGlyphs">6694</text>
<rect x="129.7" y="3019" width="83.9" height="27.5" fill="#f5c265" stroke="#b9bec3" stroke-width="1.2" stroke-opacity="0.7"/>
<text class="n" x="145.1" y="3041.4" textLength="39.2" lengthAdjust="spacingAndGlyphs">6696</text>
<rect x="129.7" y="3046.5" width="83.9" height="27.5" fill="#98d1e8" stroke="#b9bec3" stroke-width="1.2" stroke-opacity="0.7"/>
<text class="n" x="145.1" y="3068.9" textLength="39.2" lengthAdjust="spacingAndGlyphs">6698</text>
<rect x="121.3" y="3074" width="92.4" height="28.3" fill="#f0a5c8" stroke="#b9bec3" stroke-width="1.2" stroke-opacity="0.7"/>
<text class="n" x="145.8" y="3096.8" textLength="39.2" lengthAdjust="spacingAndGlyphs">6700</text>
<rect x="121.3" y="3102.3" width="75.9" height="34" fill="#f0a5c8" stroke="#b9bec3" stroke-width="1.2" stroke-opacity="0.7"/>
<text class="n" x="135.8" y="3128" textLength="39.2" lengthAdjust="spacingAndGlyphs">6702</text>
<rect x="503" y="328.4" width="86.5" height="29.7" fill="#98d1e8" stroke="#b9bec3" stroke-width="1.2" stroke-opacity="0.7"/>
<text class="n" x="521.7" y="353.8" textLength="39.2" lengthAdjust="spacingAndGlyphs">6214</text>
<rect x="503" y="358.1" width="86.5" height="29.7" fill="#98d1e8" stroke="#b9bec3" stroke-width="1.2" stroke-opacity="0.7"/>
<text class="n" x="521.7" y="383.5" textLength="39.2" lengthAdjust="spacingAndGlyphs">6216</text>
<rect x="503" y="387.8" width="86.5" height="29.7" fill="#98d1e8" stroke="#b9bec3" stroke-width="1.2" stroke-opacity="0.7"/>
<text class="n" x="521.7" y="413.2" textLength="39.2" lengthAdjust="spacingAndGlyphs">6218</text>
<rect x="503" y="417.6" width="86.5" height="29.7" fill="#98d1e8" stroke="#b9bec3" stroke-width="1.2" stroke-opacity="0.7"/>
<text class="n" x="521.7" y="442.9" textLength="39.2" lengthAdjust="spacingAndGlyphs">6220</text>
<rect x="503" y="447.3" width="86.5" height="29.7" fill="#98d1e8" stroke="#b9bec3" stroke-width="1.2" stroke-opacity="0.7"/>
<text class="n" x="521.7" y="472.6" textLength="39.2" lengthAdjust="spacingAndGlyphs">6222</text>
<rect x="503" y="477" width="86.5" height="29.7" fill="#98d1e8" stroke="#b9bec3" stroke-width="1.2" stroke-opacity="0.7"/>
<text class="n" x="521.7" y="502.4" textLength="39.2" lengthAdjust="spacingAndGlyphs">6224</text>
<rect x="503" y="506.7" width="86.5" height="29.7" fill="#98d1e8" stroke="#b9bec3" stroke-width="1.2" stroke-opacity="0.7"/>
<text class="n" x="521.7" y="532.1" textLength="39.2" lengthAdjust="spacingAndGlyphs">6226</text>
<rect x="503" y="536.4" width="86.5" height="29.7" fill="#98d1e8" stroke="#b9bec3" stroke-width="1.2" stroke-opacity="0.7"/>
<text class="n" x="521.7" y="561.8" textLength="39.2" lengthAdjust="spacingAndGlyphs">6228</text>
<rect x="503" y="566.2" width="86.5" height="29.7" fill="#98d1e8" stroke="#b9bec3" stroke-width="1.2" stroke-opacity="0.7"/>
<text class="n" x="521.7" y="591.5" textLength="39.2" lengthAdjust="spacingAndGlyphs">6230</text>
<rect x="503" y="595.9" width="86.5" height="29.7" fill="#98d1e8" stroke="#b9bec3" stroke-width="1.2" stroke-opacity="0.7"/>
<text class="n" x="521.7" y="621.2" textLength="39.2" lengthAdjust="spacingAndGlyphs">6232</text>
<rect x="503" y="625.6" width="86.5" height="29.7" fill="#f5c265" stroke="#b9bec3" stroke-width="1.2" stroke-opacity="0.7"/>
<text class="n" x="521.7" y="651" textLength="39.2" lengthAdjust="spacingAndGlyphs">6234</text>
<rect x="503" y="655.3" width="86.5" height="30" fill="#f5c265" stroke="#b9bec3" stroke-width="1.2" stroke-opacity="0.7"/>
<text class="n" x="521.7" y="677.5" textLength="39.2" lengthAdjust="spacingAndGlyphs">6236</text>
<rect x="503" y="685.3" width="86.5" height="28.4" fill="#98d1e8" stroke="#b9bec3" stroke-width="1.2" stroke-opacity="0.7"/>
<text class="n" x="521.7" y="706.7" textLength="39.2" lengthAdjust="spacingAndGlyphs">6238</text>
<rect x="503.4" y="713.7" width="86.1" height="29.4" fill="#98d1e8" stroke="#b9bec3" stroke-width="1.2" stroke-opacity="0.7"/>
<text class="n" x="522.1" y="735.6" textLength="39.2" lengthAdjust="spacingAndGlyphs">6240</text>
<rect x="511.8" y="743.1" width="77.4" height="30.5" fill="#f3d3dc" stroke="#b9bec3" stroke-width="1.2" stroke-opacity="0.7"/>
<text class="n" x="518.8" y="765.6" textLength="39.2" lengthAdjust="spacingAndGlyphs">6242</text>
<text class="dl2" x="568.4" y="766.2" textLength="19.4" lengthAdjust="spacingAndGlyphs">&#916;</text>
<rect x="511.8" y="773.6" width="77.4" height="29.4" fill="#f3d3dc" stroke="#b9bec3" stroke-width="1.2" stroke-opacity="0.7"/>
<text class="n" x="518.8" y="795.5" textLength="39.2" lengthAdjust="spacingAndGlyphs">6244</text>
<text class="dl2" x="568.4" y="796.1" textLength="19.4" lengthAdjust="spacingAndGlyphs">&#916;</text>
<rect x="505.2" y="803" width="84.3" height="29.7" fill="#e8677f" stroke="#b9bec3" stroke-width="1.2" stroke-opacity="0.7"/>
<text class="n" x="523.9" y="825.1" textLength="39.2" lengthAdjust="spacingAndGlyphs">6246</text>
<rect x="505.2" y="832.7" width="84.3" height="30.1" fill="#e8677f" stroke="#b9bec3" stroke-width="1.2" stroke-opacity="0.7"/>
<text class="n" x="523.9" y="855" textLength="39.2" lengthAdjust="spacingAndGlyphs">6248</text>
<rect x="511.8" y="862.8" width="77.4" height="29.7" fill="#f3d3dc" stroke="#b9bec3" stroke-width="1.2" stroke-opacity="0.7"/>
<text class="n" x="518.8" y="884.9" textLength="39.2" lengthAdjust="spacingAndGlyphs">6250</text>
<text class="dl2" x="568.4" y="885.5" textLength="19.4" lengthAdjust="spacingAndGlyphs">&#916;</text>
<rect x="511.8" y="892.5" width="77.4" height="29.7" fill="#3cb3d0" stroke="#b9bec3" stroke-width="1.2" stroke-opacity="0.7"/>
<text class="n" x="524.3" y="914.6" textLength="39.2" lengthAdjust="spacingAndGlyphs">6252</text>
<rect x="511.8" y="922.2" width="77.4" height="29.7" fill="#f3d3dc" stroke="#b9bec3" stroke-width="1.2" stroke-opacity="0.7"/>
<text class="n" x="518.8" y="944.2" textLength="39.2" lengthAdjust="spacingAndGlyphs">6254</text>
<text class="dl2" x="568.4" y="944.9" textLength="19.4" lengthAdjust="spacingAndGlyphs">&#916;</text>
<rect x="511.8" y="951.9" width="77.4" height="29.7" fill="#3cb3d0" stroke="#b9bec3" stroke-width="1.2" stroke-opacity="0.7"/>
<text class="n" x="524.3" y="974" textLength="39.2" lengthAdjust="spacingAndGlyphs">6256</text>
<rect x="511.8" y="981.6" width="77.4" height="29.9" fill="#3cb3d0" stroke="#b9bec3" stroke-width="1.2" stroke-opacity="0.7"/>
<text class="n" x="524.3" y="1003.8" textLength="39.2" lengthAdjust="spacingAndGlyphs">6258</text>
<rect x="511.8" y="1011.5" width="77.4" height="29.9" fill="#3cb3d0" stroke="#b9bec3" stroke-width="1.2" stroke-opacity="0.7"/>
<text class="n" x="524.3" y="1035.2" textLength="39.2" lengthAdjust="spacingAndGlyphs">6260</text>
<rect x="511.8" y="1041.4" width="77.4" height="29.3" fill="#3cb3d0" stroke="#b9bec3" stroke-width="1.2" stroke-opacity="0.7"/>
<text class="n" x="524.3" y="1064.8" textLength="39.2" lengthAdjust="spacingAndGlyphs">6262</text>
<rect x="511.8" y="1070.7" width="77.4" height="30.1" fill="#3cb3d0" stroke="#b9bec3" stroke-width="1.2" stroke-opacity="0.7"/>
<text class="n" x="524.3" y="1094.5" textLength="39.2" lengthAdjust="spacingAndGlyphs">6264</text>
<rect x="511.8" y="1100.8" width="77.4" height="30" fill="#3cb3d0" stroke="#b9bec3" stroke-width="1.2" stroke-opacity="0.7"/>
<text class="n" x="524.3" y="1124.5" textLength="39.2" lengthAdjust="spacingAndGlyphs">6266</text>
<rect x="511.8" y="1130.8" width="77.4" height="30.4" fill="#3cb3d0" stroke="#b9bec3" stroke-width="1.2" stroke-opacity="0.7"/>
<text class="n" x="524.3" y="1154.7" textLength="39.2" lengthAdjust="spacingAndGlyphs">6268</text>
<rect x="511.8" y="1161.2" width="77.4" height="30.1" fill="#3cb3d0" stroke="#b9bec3" stroke-width="1.2" stroke-opacity="0.7"/>
<text class="n" x="524.3" y="1185" textLength="39.2" lengthAdjust="spacingAndGlyphs">6270</text>
<rect x="511.8" y="1191.3" width="77.4" height="30.1" fill="#3cb3d0" stroke="#b9bec3" stroke-width="1.2" stroke-opacity="0.7"/>
<text class="n" x="524.3" y="1215" textLength="39.2" lengthAdjust="spacingAndGlyphs">6272</text>
<rect x="511.8" y="1221.4" width="77.4" height="29.6" fill="#3cb3d0" stroke="#b9bec3" stroke-width="1.2" stroke-opacity="0.7"/>
<text class="n" x="524.3" y="1244.9" textLength="39.2" lengthAdjust="spacingAndGlyphs">6274</text>
<rect x="511.8" y="1251" width="77.4" height="30" fill="#3cb3d0" stroke="#b9bec3" stroke-width="1.2" stroke-opacity="0.7"/>
<text class="n" x="524.3" y="1274.7" textLength="39.2" lengthAdjust="spacingAndGlyphs">6276</text>
<rect x="511.8" y="1281" width="77.4" height="30.2" fill="#3cb3d0" stroke="#b9bec3" stroke-width="1.2" stroke-opacity="0.7"/>
<text class="n" x="524.3" y="1304.8" textLength="39.2" lengthAdjust="spacingAndGlyphs">6278</text>
<rect x="511.8" y="1311.2" width="77.4" height="30" fill="#3cb3d0" stroke="#b9bec3" stroke-width="1.2" stroke-opacity="0.7"/>
<text class="n" x="524.3" y="1334.9" textLength="39.2" lengthAdjust="spacingAndGlyphs">6280</text>
<rect x="511.8" y="1341.2" width="77.4" height="29.4" fill="#3cb3d0" stroke="#b9bec3" stroke-width="1.2" stroke-opacity="0.7"/>
<text class="n" x="524.3" y="1364.6" textLength="39.2" lengthAdjust="spacingAndGlyphs">6282</text>
<rect x="511.8" y="1370.6" width="77.4" height="30.1" fill="#3cb3d0" stroke="#b9bec3" stroke-width="1.2" stroke-opacity="0.7"/>
<text class="n" x="524.3" y="1394.4" textLength="39.2" lengthAdjust="spacingAndGlyphs">6284</text>
<rect x="511.8" y="1400.7" width="77.4" height="30" fill="#3cb3d0" stroke="#b9bec3" stroke-width="1.2" stroke-opacity="0.7"/>
<text class="n" x="524.3" y="1424.4" textLength="39.2" lengthAdjust="spacingAndGlyphs">6286</text>
<rect x="511.8" y="1430.7" width="77.4" height="30.1" fill="#3cb3d0" stroke="#b9bec3" stroke-width="1.2" stroke-opacity="0.7"/>
<text class="n" x="524.3" y="1454.5" textLength="39.2" lengthAdjust="spacingAndGlyphs">6288</text>
<rect x="511.8" y="1460.8" width="77.4" height="30" fill="#3cb3d0" stroke="#b9bec3" stroke-width="1.2" stroke-opacity="0.7"/>
<text class="n" x="524.3" y="1484.5" textLength="39.2" lengthAdjust="spacingAndGlyphs">6290</text>
<rect x="511.8" y="1490.8" width="77.4" height="30.1" fill="#f3d3dc" stroke="#b9bec3" stroke-width="1.2" stroke-opacity="0.7"/>
<text class="n" x="518.8" y="1514.5" textLength="39.2" lengthAdjust="spacingAndGlyphs">6292</text>
<text class="dl2" x="568.4" y="1515.1" textLength="19.4" lengthAdjust="spacingAndGlyphs">&#916;</text>
<rect x="511.8" y="1520.9" width="77.4" height="30.1" fill="#f3d3dc" stroke="#b9bec3" stroke-width="1.2" stroke-opacity="0.7"/>
<text class="n" x="518.8" y="1544.7" textLength="39.2" lengthAdjust="spacingAndGlyphs">6294</text>
<text class="dl2" x="568.4" y="1545.2" textLength="19.4" lengthAdjust="spacingAndGlyphs">&#916;</text>
<rect x="511.8" y="1551" width="77.4" height="30" fill="#3cb3d0" stroke="#b9bec3" stroke-width="1.2" stroke-opacity="0.7"/>
<text class="n" x="524.3" y="1574.7" textLength="39.2" lengthAdjust="spacingAndGlyphs">6296</text>
<rect x="511.8" y="1581" width="77.4" height="30" fill="#f3d3dc" stroke="#b9bec3" stroke-width="1.2" stroke-opacity="0.7"/>
<text class="n" x="518.8" y="1604.7" textLength="39.2" lengthAdjust="spacingAndGlyphs">6298</text>
<text class="dl2" x="568.4" y="1605.3" textLength="19.4" lengthAdjust="spacingAndGlyphs">&#916;</text>
<rect x="511.8" y="1611" width="77.4" height="30" fill="#3cb3d0" stroke="#b9bec3" stroke-width="1.2" stroke-opacity="0.7"/>
<text class="n" x="524.3" y="1634.7" textLength="39.2" lengthAdjust="spacingAndGlyphs">6300</text>
<rect x="511.8" y="1641" width="77.4" height="30" fill="#f3d3dc" stroke="#b9bec3" stroke-width="1.2" stroke-opacity="0.7"/>
<text class="n" x="518.8" y="1664.7" textLength="39.2" lengthAdjust="spacingAndGlyphs">6302</text>
<text class="dl2" x="568.4" y="1665.3" textLength="19.4" lengthAdjust="spacingAndGlyphs">&#916;</text>
<rect x="511.8" y="1671" width="77.4" height="30" fill="#f5c265" stroke="#b9bec3" stroke-width="1.2" stroke-opacity="0.7"/>
<text class="n" x="524.3" y="1694.7" textLength="39.2" lengthAdjust="spacingAndGlyphs">6304</text>
<rect x="511.8" y="1701" width="77.4" height="29.3" fill="#f5c265" stroke="#b9bec3" stroke-width="1.2" stroke-opacity="0.7"/>
<text class="n" x="524.3" y="1724.4" textLength="39.2" lengthAdjust="spacingAndGlyphs">6306</text>
<rect x="511.8" y="1730.3" width="77.4" height="29.7" fill="#3cb3d0" stroke="#b9bec3" stroke-width="1.2" stroke-opacity="0.7"/>
<text class="n" x="524.3" y="1753.9" textLength="39.2" lengthAdjust="spacingAndGlyphs">6308</text>
<rect x="511.8" y="1760" width="77.4" height="29.7" fill="#f3d3dc" stroke="#b9bec3" stroke-width="1.2" stroke-opacity="0.7"/>
<text class="n" x="518.8" y="1783.5" textLength="39.2" lengthAdjust="spacingAndGlyphs">6310</text>
<text class="dl2" x="568.4" y="1784.1" textLength="19.4" lengthAdjust="spacingAndGlyphs">&#916;</text>
<rect x="511.8" y="1789.7" width="77.4" height="30.3" fill="#3cb3d0" stroke="#b9bec3" stroke-width="1.2" stroke-opacity="0.7"/>
<text class="n" x="524.3" y="1813.5" textLength="39.2" lengthAdjust="spacingAndGlyphs">6312</text>
<rect x="511.8" y="1820" width="77.4" height="29.8" fill="#3cb3d0" stroke="#b9bec3" stroke-width="1.2" stroke-opacity="0.7"/>
<text class="n" x="524.3" y="1843.6" textLength="39.2" lengthAdjust="spacingAndGlyphs">6314</text>
<rect x="511.8" y="1849.8" width="77.4" height="29.2" fill="#f5c265" stroke="#b9bec3" stroke-width="1.2" stroke-opacity="0.7"/>
<text class="n" x="524.3" y="1873.1" textLength="39.2" lengthAdjust="spacingAndGlyphs">6316</text>
<rect x="511.8" y="1879" width="77.4" height="29.5" fill="#f5c265" stroke="#b9bec3" stroke-width="1.2" stroke-opacity="0.7"/>
<text class="n" x="524.3" y="1902.5" textLength="39.2" lengthAdjust="spacingAndGlyphs">6318</text>
<rect x="511.8" y="1908.5" width="77.4" height="43.3" fill="#3cb3d0" stroke="#b9bec3" stroke-width="1.2" stroke-opacity="0.7"/>
<text class="wc" x="510.5" y="1942.2">&#9855;</text>
<text class="n" x="538.8" y="1942.2" textLength="39.2" lengthAdjust="spacingAndGlyphs">6320</text>
<rect x="511.8" y="1951.8" width="77.4" height="43.4" fill="#3cb3d0" stroke="#b9bec3" stroke-width="1.2" stroke-opacity="0.7"/>
<text class="wc" x="510.5" y="1985.5">&#9855;</text>
<text class="n" x="536.8" y="1985.5" textLength="39.2" lengthAdjust="spacingAndGlyphs">6324</text>
<rect x="511.8" y="1995.2" width="77.4" height="30" fill="#f3d3dc" stroke="#b9bec3" stroke-width="1.2" stroke-opacity="0.7"/>
<text class="n" x="518.8" y="2018.9" textLength="39.2" lengthAdjust="spacingAndGlyphs">6326</text>
<text class="dl2" x="568.4" y="2019.5" textLength="19.4" lengthAdjust="spacingAndGlyphs">&#916;</text>
<rect x="511.8" y="2025.2" width="77.4" height="32.3" fill="#f3d3dc" stroke="#b9bec3" stroke-width="1.2" stroke-opacity="0.7"/>
<text class="n" x="518.8" y="2050" textLength="39.2" lengthAdjust="spacingAndGlyphs">6328</text>
<text class="dl2" x="568.4" y="2050.6" textLength="19.4" lengthAdjust="spacingAndGlyphs">&#916;</text>
<rect x="511.8" y="2057.5" width="77.4" height="32.3" fill="#3cb3d0" stroke="#b9bec3" stroke-width="1.2" stroke-opacity="0.7"/>
<text class="n" x="518.6" y="2082.3" textLength="39.2" lengthAdjust="spacingAndGlyphs">6330</text>
<text class="as" x="574.1" y="2082.5" text-anchor="middle">*</text>
<rect x="519.5" y="2089.8" width="76.5" height="30" fill="#3cb3d0" stroke="#b9bec3" stroke-width="1.2" stroke-opacity="0.7"/>
<text class="n" x="533" y="2113.5" textLength="39.2" lengthAdjust="spacingAndGlyphs">6332</text>
<rect x="527" y="2119.8" width="76.7" height="30.4" fill="#3cb3d0" stroke="#b9bec3" stroke-width="1.2" stroke-opacity="0.7"/>
<text class="n" x="540.5" y="2143.7" textLength="39.2" lengthAdjust="spacingAndGlyphs">6334</text>
<rect x="531.4" y="2150.2" width="76.6" height="30.4" fill="#3cb3d0" stroke="#b9bec3" stroke-width="1.2" stroke-opacity="0.7"/>
<text class="n" x="544.9" y="2174.1" textLength="39.2" lengthAdjust="spacingAndGlyphs">6336</text>
<rect x="536.4" y="2180.6" width="76.1" height="29.9" fill="#3cb3d0" stroke="#b9bec3" stroke-width="1.2" stroke-opacity="0.7"/>
<text class="n" x="549.9" y="2204.2" textLength="39.2" lengthAdjust="spacingAndGlyphs">6338</text>
<rect x="536.4" y="2210.5" width="76.1" height="30.2" fill="#3cb3d0" stroke="#b9bec3" stroke-width="1.2" stroke-opacity="0.7"/>
<text class="n" x="549.9" y="2234.3" textLength="39.2" lengthAdjust="spacingAndGlyphs">6340</text>
<rect x="531.4" y="2240.7" width="76.6" height="30.4" fill="#3cb3d0" stroke="#b9bec3" stroke-width="1.2" stroke-opacity="0.7"/>
<text class="n" x="544.9" y="2264.6" textLength="39.2" lengthAdjust="spacingAndGlyphs">6342</text>
<rect x="527" y="2271.1" width="76.3" height="30" fill="#3cb3d0" stroke="#b9bec3" stroke-width="1.2" stroke-opacity="0.7"/>
<text class="n" x="540.5" y="2294.8" textLength="39.2" lengthAdjust="spacingAndGlyphs">6344</text>
<rect x="519.4" y="2301.1" width="76.8" height="30.5" fill="#3cb3d0" stroke="#b9bec3" stroke-width="1.2" stroke-opacity="0.7"/>
<text class="n" x="532.9" y="2325" textLength="39.2" lengthAdjust="spacingAndGlyphs">6346</text>
<rect x="511.8" y="2331.6" width="76.8" height="30.2" fill="#3cb3d0" stroke="#b9bec3" stroke-width="1.2" stroke-opacity="0.7"/>
<text class="n" x="518.3" y="2355.4" textLength="39.2" lengthAdjust="spacingAndGlyphs">6348</text>
<text class="as" x="573.8" y="2355.5" text-anchor="middle">*</text>
<rect x="505.6" y="2361.8" width="83.9" height="29.7" fill="#98d1e8" stroke="#b9bec3" stroke-width="1.2" stroke-opacity="0.7"/>
<text class="n" x="519.3" y="2385.3" textLength="39.2" lengthAdjust="spacingAndGlyphs">6350</text>
<text class="as" x="574.8" y="2385.5" text-anchor="middle">*</text>
<rect x="505.6" y="2391.5" width="83.9" height="29.8" fill="#98d1e8" stroke="#b9bec3" stroke-width="1.2" stroke-opacity="0.7"/>
<text class="n" x="519.3" y="2415.1" textLength="39.2" lengthAdjust="spacingAndGlyphs">6352</text>
<rect x="505.6" y="2421.3" width="83.9" height="29.4" fill="#98d1e8" stroke="#b9bec3" stroke-width="1.2" stroke-opacity="0.7"/>
<text class="n" x="519.3" y="2444.7" textLength="39.2" lengthAdjust="spacingAndGlyphs">6354</text>
<rect x="505.6" y="2450.7" width="83.9" height="29.3" fill="#98d1e8" stroke="#b9bec3" stroke-width="1.2" stroke-opacity="0.7"/>
<text class="n" x="519.3" y="2474" textLength="39.2" lengthAdjust="spacingAndGlyphs">6356</text>
<rect x="505.6" y="2480" width="83.9" height="29.7" fill="#98d1e8" stroke="#b9bec3" stroke-width="1.2" stroke-opacity="0.7"/>
<text class="n" x="519.3" y="2503.5" textLength="39.2" lengthAdjust="spacingAndGlyphs">6358</text>
<rect x="505.6" y="2509.7" width="83.9" height="29.3" fill="#98d1e8" stroke="#b9bec3" stroke-width="1.2" stroke-opacity="0.7"/>
<text class="n" x="519.3" y="2533" textLength="39.2" lengthAdjust="spacingAndGlyphs">6360</text>
<rect x="505.6" y="2539" width="83.9" height="29.8" fill="#98d1e8" stroke="#b9bec3" stroke-width="1.2" stroke-opacity="0.7"/>
<text class="n" x="519.3" y="2562.6" textLength="39.2" lengthAdjust="spacingAndGlyphs">6362</text>
<rect x="505.6" y="2568.8" width="83.9" height="29.2" fill="#98d1e8" stroke="#b9bec3" stroke-width="1.2" stroke-opacity="0.7"/>
<text class="n" x="519.3" y="2592.1" textLength="39.2" lengthAdjust="spacingAndGlyphs">6364</text>
<rect x="505.6" y="2598" width="83.9" height="29.8" fill="#98d1e8" stroke="#b9bec3" stroke-width="1.2" stroke-opacity="0.7"/>
<text class="n" x="519.3" y="2621.6" textLength="39.2" lengthAdjust="spacingAndGlyphs">6366</text>
<text class="as" x="574.8" y="2621.7" text-anchor="middle">*</text>
<rect x="505.6" y="2627.8" width="83.9" height="29.7" fill="#98d1e8" stroke="#b9bec3" stroke-width="1.2" stroke-opacity="0.7"/>
<text class="n" x="519.3" y="2651.3" textLength="39.2" lengthAdjust="spacingAndGlyphs">6368</text>
<text class="as" x="574.8" y="2651.5" text-anchor="middle">*</text>
<rect x="505.6" y="2657.5" width="83.9" height="29.4" fill="#98d1e8" stroke="#b9bec3" stroke-width="1.2" stroke-opacity="0.7"/>
<text class="n" x="519.3" y="2680.9" textLength="39.2" lengthAdjust="spacingAndGlyphs">6370</text>
<text class="as" x="574.8" y="2681" text-anchor="middle">*</text>
<rect x="505.6" y="2686.9" width="83.9" height="28.1" fill="#98d1e8" stroke="#b9bec3" stroke-width="1.2" stroke-opacity="0.7"/>
<text class="n" x="519.3" y="2709.6" textLength="39.2" lengthAdjust="spacingAndGlyphs">6372</text>
<text class="as" x="574.8" y="2709.8" text-anchor="middle">*</text>
<rect x="505.6" y="2715" width="83.9" height="27.4" fill="#98d1e8" stroke="#b9bec3" stroke-width="1.2" stroke-opacity="0.7"/>
<text class="n" x="519.3" y="2737.4" textLength="39.2" lengthAdjust="spacingAndGlyphs">6374</text>
<text class="as" x="574.8" y="2737.5" text-anchor="middle">*</text>
<rect x="505.6" y="2742.4" width="83.9" height="28.3" fill="#98d1e8" stroke="#b9bec3" stroke-width="1.2" stroke-opacity="0.7"/>
<text class="n" x="519.3" y="2765.2" textLength="39.2" lengthAdjust="spacingAndGlyphs">6376</text>
<text class="as" x="574.8" y="2765.4" text-anchor="middle">*</text>
<rect x="505.6" y="2770.7" width="83.9" height="28.3" fill="#98d1e8" stroke="#b9bec3" stroke-width="1.2" stroke-opacity="0.7"/>
<text class="n" x="519.3" y="2793.5" textLength="39.2" lengthAdjust="spacingAndGlyphs">6378</text>
<text class="as" x="574.8" y="2793.7" text-anchor="middle">*</text>
<rect x="505.6" y="2799" width="83.9" height="27.6" fill="#98d1e8" stroke="#b9bec3" stroke-width="1.2" stroke-opacity="0.7"/>
<text class="n" x="519.3" y="2821.5" textLength="39.2" lengthAdjust="spacingAndGlyphs">6380</text>
<rect x="505.6" y="2826.6" width="83.9" height="26.4" fill="#f5c265" stroke="#b9bec3" stroke-width="1.2" stroke-opacity="0.7"/>
<text class="n" x="519.3" y="2848.5" textLength="39.2" lengthAdjust="spacingAndGlyphs">6382</text>
<rect x="505.6" y="2853" width="83.9" height="27" fill="#f5c265" stroke="#b9bec3" stroke-width="1.2" stroke-opacity="0.7"/>
<text class="n" x="519.3" y="2875.2" textLength="39.2" lengthAdjust="spacingAndGlyphs">6384</text>
<rect x="505.6" y="2880" width="83.9" height="27.6" fill="#98d1e8" stroke="#b9bec3" stroke-width="1.2" stroke-opacity="0.7"/>
<text class="n" x="519.3" y="2902.5" textLength="39.2" lengthAdjust="spacingAndGlyphs">6386</text>
<rect x="505.6" y="2907.6" width="83.9" height="27.4" fill="#98d1e8" stroke="#b9bec3" stroke-width="1.2" stroke-opacity="0.7"/>
<text class="n" x="519.3" y="2930" textLength="39.2" lengthAdjust="spacingAndGlyphs">6388</text>
<rect x="505.6" y="2935" width="83.9" height="28" fill="#98d1e8" stroke="#b9bec3" stroke-width="1.2" stroke-opacity="0.7"/>
<text class="n" x="519.3" y="2957.7" textLength="39.2" lengthAdjust="spacingAndGlyphs">6390</text>
<rect x="505.6" y="2963" width="83.9" height="27.7" fill="#98d1e8" stroke="#b9bec3" stroke-width="1.2" stroke-opacity="0.7"/>
<text class="n" x="519.3" y="2985.5" textLength="39.2" lengthAdjust="spacingAndGlyphs">6392</text>
<rect x="505.6" y="2990.7" width="83.9" height="28.3" fill="#f5c265" stroke="#b9bec3" stroke-width="1.2" stroke-opacity="0.7"/>
<text class="n" x="519.3" y="3013.5" textLength="39.2" lengthAdjust="spacingAndGlyphs">6394</text>
<rect x="505.6" y="3019" width="83.9" height="27.5" fill="#f5c265" stroke="#b9bec3" stroke-width="1.2" stroke-opacity="0.7"/>
<text class="n" x="519.3" y="3041.4" textLength="39.2" lengthAdjust="spacingAndGlyphs">6396</text>
<rect x="505.6" y="3046.5" width="83.9" height="27.5" fill="#98d1e8" stroke="#b9bec3" stroke-width="1.2" stroke-opacity="0.7"/>
<text class="n" x="519.3" y="3068.9" textLength="39.2" lengthAdjust="spacingAndGlyphs">6398</text>
<rect x="505.5" y="3074" width="92.4" height="28.3" fill="#f0a5c8" stroke="#b9bec3" stroke-width="1.2" stroke-opacity="0.7"/>
<text class="n" x="518.5" y="3096.8" textLength="39.2" lengthAdjust="spacingAndGlyphs">6400</text>
<rect x="522" y="3102.3" width="75.9" height="34" fill="#f0a5c8" stroke="#b9bec3" stroke-width="1.2" stroke-opacity="0.7"/>
<text class="n" x="536" y="3128" textLength="39.2" lengthAdjust="spacingAndGlyphs">6402</text>
<rect x="235" y="241.5" width="71.5" height="29.5" fill="#d2a997" stroke="#b9bec3" stroke-width="1.2" stroke-opacity="0.7"/>
<text class="n" x="244" y="264.7" textLength="39.2" lengthAdjust="spacingAndGlyphs">6509</text>
<rect x="235" y="271" width="71.5" height="29.5" fill="#d2a997" stroke="#b9bec3" stroke-width="1.2" stroke-opacity="0.7"/>
<text class="n" x="244" y="294.2" textLength="39.2" lengthAdjust="spacingAndGlyphs">6511</text>
<text class="as" x="298.5" y="294.6" text-anchor="middle">*</text>
<rect x="235" y="300.5" width="71.5" height="29.5" fill="#d2a997" stroke="#b9bec3" stroke-width="1.2" stroke-opacity="0.7"/>
<text class="n" x="244" y="323.7" textLength="39.2" lengthAdjust="spacingAndGlyphs">6513</text>
<text class="as" x="298.5" y="324.1" text-anchor="middle">*</text>
<rect x="235" y="330" width="71.5" height="29.5" fill="#d2a997" stroke="#b9bec3" stroke-width="1.2" stroke-opacity="0.7"/>
<text class="n" x="244" y="353.2" textLength="39.2" lengthAdjust="spacingAndGlyphs">6515</text>
<rect x="235" y="359.6" width="71.5" height="29.5" fill="#d2a997" stroke="#b9bec3" stroke-width="1.2" stroke-opacity="0.7"/>
<text class="n" x="244" y="382.7" textLength="39.2" lengthAdjust="spacingAndGlyphs">6517</text>
<rect x="235" y="389.1" width="71.5" height="29.5" fill="#d2a997" stroke="#b9bec3" stroke-width="1.2" stroke-opacity="0.7"/>
<text class="n" x="244" y="412.2" textLength="39.2" lengthAdjust="spacingAndGlyphs">6519</text>
<rect x="235" y="418.6" width="71.5" height="29.5" fill="#d2a997" stroke="#b9bec3" stroke-width="1.2" stroke-opacity="0.7"/>
<text class="n" x="244" y="441.7" textLength="39.2" lengthAdjust="spacingAndGlyphs">6521</text>
<text class="as" x="298.5" y="442.1" text-anchor="middle">*</text>
<rect x="235" y="448.1" width="71.5" height="29.5" fill="#d2a997" stroke="#b9bec3" stroke-width="1.2" stroke-opacity="0.7"/>
<text class="n" x="244" y="471.3" textLength="39.2" lengthAdjust="spacingAndGlyphs">6523</text>
<text class="as" x="298.5" y="471.7" text-anchor="middle">*</text>
<rect x="235" y="477.6" width="71.5" height="29.5" fill="#d2a997" stroke="#b9bec3" stroke-width="1.2" stroke-opacity="0.7"/>
<text class="n" x="244" y="500.8" textLength="39.2" lengthAdjust="spacingAndGlyphs">6525</text>
<rect x="235" y="507.1" width="71.5" height="29.5" fill="#d2a997" stroke="#b9bec3" stroke-width="1.2" stroke-opacity="0.7"/>
<text class="n" x="244" y="530.3" textLength="39.2" lengthAdjust="spacingAndGlyphs">6527</text>
<rect x="235" y="536.6" width="71.5" height="29.5" fill="#d2a997" stroke="#b9bec3" stroke-width="1.2" stroke-opacity="0.7"/>
<text class="n" x="244" y="559.8" textLength="39.2" lengthAdjust="spacingAndGlyphs">6529</text>
<rect x="235" y="566.2" width="71.5" height="29.5" fill="#d2a997" stroke="#b9bec3" stroke-width="1.2" stroke-opacity="0.7"/>
<text class="n" x="244" y="589.3" textLength="39.2" lengthAdjust="spacingAndGlyphs">6531</text>
<text class="as" x="298.5" y="589.7" text-anchor="middle">*</text>
<rect x="235" y="595.7" width="71.5" height="29.5" fill="#d2a997" stroke="#b9bec3" stroke-width="1.2" stroke-opacity="0.7"/>
<text class="n" x="244" y="618.8" textLength="39.2" lengthAdjust="spacingAndGlyphs">6533</text>
<text class="as" x="298.5" y="619.2" text-anchor="middle">*</text>
<rect x="235" y="625.2" width="71.5" height="29.5" fill="#d2a997" stroke="#b9bec3" stroke-width="1.2" stroke-opacity="0.7"/>
<text class="n" x="244" y="648.3" textLength="39.2" lengthAdjust="spacingAndGlyphs">6535</text>
<text class="as" x="298.5" y="648.7" text-anchor="middle">*</text>
<rect x="311.4" y="241.5" width="72.1" height="29.5" fill="#d2a997" stroke="#b9bec3" stroke-width="1.2" stroke-opacity="0.7"/>
<text class="n" x="319.9" y="264.6" textLength="39.2" lengthAdjust="spacingAndGlyphs">6109</text>
<rect x="311.4" y="271" width="72.1" height="29.5" fill="#d2a997" stroke="#b9bec3" stroke-width="1.2" stroke-opacity="0.7"/>
<text class="n" x="319.9" y="294.1" textLength="39.2" lengthAdjust="spacingAndGlyphs">6111</text>
<text class="as" x="372.9" y="294.5" text-anchor="middle">*</text>
<rect x="311.4" y="300.4" width="72.1" height="29.5" fill="#d2a997" stroke="#b9bec3" stroke-width="1.2" stroke-opacity="0.7"/>
<text class="n" x="319.9" y="323.6" textLength="39.2" lengthAdjust="spacingAndGlyphs">6113</text>
<text class="as" x="372.9" y="324" text-anchor="middle">*</text>
<rect x="311.4" y="329.9" width="72.1" height="29.5" fill="#d2a997" stroke="#b9bec3" stroke-width="1.2" stroke-opacity="0.7"/>
<text class="n" x="319.9" y="353" textLength="39.2" lengthAdjust="spacingAndGlyphs">6115</text>
<rect x="311.4" y="359.4" width="72.1" height="29.5" fill="#d2a997" stroke="#b9bec3" stroke-width="1.2" stroke-opacity="0.7"/>
<text class="n" x="319.9" y="382.5" textLength="39.2" lengthAdjust="spacingAndGlyphs">6117</text>
<rect x="311.4" y="388.8" width="72.1" height="29.5" fill="#d2a997" stroke="#b9bec3" stroke-width="1.2" stroke-opacity="0.7"/>
<text class="n" x="319.9" y="412" textLength="39.2" lengthAdjust="spacingAndGlyphs">6119</text>
<text class="as" x="372.9" y="412.4" text-anchor="middle">*</text>
<rect x="311.4" y="418.3" width="72.1" height="29.5" fill="#d2a997" stroke="#b9bec3" stroke-width="1.2" stroke-opacity="0.7"/>
<text class="n" x="319.9" y="441.4" textLength="39.2" lengthAdjust="spacingAndGlyphs">6121</text>
<text class="as" x="372.9" y="441.8" text-anchor="middle">*</text>
<rect x="311.4" y="447.8" width="72.1" height="29.5" fill="#d2a997" stroke="#b9bec3" stroke-width="1.2" stroke-opacity="0.7"/>
<text class="n" x="319.9" y="470.9" textLength="39.2" lengthAdjust="spacingAndGlyphs">6123</text>
<rect x="311.4" y="477.2" width="72.1" height="29.5" fill="#d2a997" stroke="#b9bec3" stroke-width="1.2" stroke-opacity="0.7"/>
<text class="n" x="319.9" y="500.4" textLength="39.2" lengthAdjust="spacingAndGlyphs">6125</text>
<rect x="311.4" y="536.7" width="72.1" height="29.5" fill="#d2a997" stroke="#b9bec3" stroke-width="1.2" stroke-opacity="0.7"/>
<text class="n" x="319.9" y="559.8" textLength="39.2" lengthAdjust="spacingAndGlyphs">6129</text>
<rect x="311.4" y="566.2" width="72.1" height="29.4" fill="#d2a997" stroke="#b9bec3" stroke-width="1.2" stroke-opacity="0.7"/>
<text class="n" x="319.9" y="589.3" textLength="39.2" lengthAdjust="spacingAndGlyphs">6131</text>
<text class="as" x="372.9" y="589.7" text-anchor="middle">*</text>
<rect x="311.4" y="595.6" width="72.1" height="29.4" fill="#d2a997" stroke="#b9bec3" stroke-width="1.2" stroke-opacity="0.7"/>
<text class="n" x="319.9" y="618.7" textLength="39.2" lengthAdjust="spacingAndGlyphs">6133</text>
<text class="as" x="372.9" y="619.1" text-anchor="middle">*</text>
<rect x="311.4" y="625" width="72.1" height="29.5" fill="#d2a997" stroke="#b9bec3" stroke-width="1.2" stroke-opacity="0.7"/>
<text class="n" x="319.9" y="648.2" textLength="39.2" lengthAdjust="spacingAndGlyphs">6135</text>
<text class="as" x="372.9" y="648.6" text-anchor="middle">*</text>
<rect x="311.4" y="687.3" width="72.1" height="27.2" fill="#d2a997" stroke="#b9bec3" stroke-width="1.2" stroke-opacity="0.7"/>
<text class="n" x="319.9" y="709.3" textLength="39.2" lengthAdjust="spacingAndGlyphs">6137</text>
<rect x="412.7" y="241" width="71.3" height="29.5" fill="#d2a997" stroke="#b9bec3" stroke-width="1.2" stroke-opacity="0.7"/>
<text class="n" x="422.2" y="264.1" textLength="39.2" lengthAdjust="spacingAndGlyphs">6209</text>
<rect x="412.7" y="270.5" width="71.3" height="29.5" fill="#d2a997" stroke="#b9bec3" stroke-width="1.2" stroke-opacity="0.7"/>
<text class="n" x="422.2" y="293.6" textLength="39.2" lengthAdjust="spacingAndGlyphs">6211</text>
<rect x="412.7" y="299.9" width="71.3" height="29.5" fill="#d2a997" stroke="#b9bec3" stroke-width="1.2" stroke-opacity="0.7"/>
<text class="n" x="422.2" y="323.1" textLength="39.2" lengthAdjust="spacingAndGlyphs">6213</text>
<text class="as" x="476.2" y="323.5" text-anchor="middle">*</text>
<rect x="412.7" y="329.4" width="71.3" height="29.5" fill="#d2a997" stroke="#b9bec3" stroke-width="1.2" stroke-opacity="0.7"/>
<text class="n" x="422.2" y="352.5" textLength="39.2" lengthAdjust="spacingAndGlyphs">6215</text>
<text class="as" x="476.2" y="352.9" text-anchor="middle">*</text>
<rect x="412.7" y="358.9" width="71.3" height="29.5" fill="#d2a997" stroke="#b9bec3" stroke-width="1.2" stroke-opacity="0.7"/>
<text class="n" x="422.2" y="382" textLength="39.2" lengthAdjust="spacingAndGlyphs">6217</text>
<rect x="412.7" y="388.3" width="71.3" height="29.5" fill="#d2a997" stroke="#b9bec3" stroke-width="1.2" stroke-opacity="0.7"/>
<text class="n" x="422.2" y="411.5" textLength="39.2" lengthAdjust="spacingAndGlyphs">6219</text>
<rect x="412.7" y="417.8" width="71.3" height="29.5" fill="#d2a997" stroke="#b9bec3" stroke-width="1.2" stroke-opacity="0.7"/>
<text class="n" x="422.2" y="440.9" textLength="39.2" lengthAdjust="spacingAndGlyphs">6221</text>
<text class="as" x="476.2" y="441.3" text-anchor="middle">*</text>
<rect x="412.7" y="447.3" width="71.3" height="29.5" fill="#d2a997" stroke="#b9bec3" stroke-width="1.2" stroke-opacity="0.7"/>
<text class="n" x="422.2" y="470.4" textLength="39.2" lengthAdjust="spacingAndGlyphs">6223</text>
<text class="as" x="476.2" y="470.8" text-anchor="middle">*</text>
<rect x="412.7" y="476.7" width="71.3" height="29.5" fill="#d2a997" stroke="#b9bec3" stroke-width="1.2" stroke-opacity="0.7"/>
<text class="n" x="422.2" y="499.9" textLength="39.2" lengthAdjust="spacingAndGlyphs">6225</text>
<rect x="412.7" y="506.2" width="71.3" height="29.5" fill="#d2a997" stroke="#b9bec3" stroke-width="1.2" stroke-opacity="0.7"/>
<text class="n" x="422.2" y="529.3" textLength="39.2" lengthAdjust="spacingAndGlyphs">6227</text>
<rect x="412.7" y="535.7" width="71.3" height="29.5" fill="#d2a997" stroke="#b9bec3" stroke-width="1.2" stroke-opacity="0.7"/>
<text class="n" x="422.2" y="558.8" textLength="39.2" lengthAdjust="spacingAndGlyphs">6229</text>
<rect x="412.7" y="565.1" width="71.3" height="29.5" fill="#d2a997" stroke="#b9bec3" stroke-width="1.2" stroke-opacity="0.7"/>
<text class="n" x="422.2" y="588.3" textLength="39.2" lengthAdjust="spacingAndGlyphs">6231</text>
<text class="as" x="476.2" y="588.7" text-anchor="middle">*</text>
<rect x="412.7" y="594.6" width="71.3" height="29.5" fill="#d2a997" stroke="#b9bec3" stroke-width="1.2" stroke-opacity="0.7"/>
<text class="n" x="422.2" y="617.7" textLength="39.2" lengthAdjust="spacingAndGlyphs">6233</text>
<text class="as" x="476.2" y="618.1" text-anchor="middle">*</text>
<rect x="412.7" y="624.1" width="71.3" height="29.5" fill="#d2a997" stroke="#b9bec3" stroke-width="1.2" stroke-opacity="0.7"/>
<text class="n" x="422.2" y="647.2" textLength="39.2" lengthAdjust="spacingAndGlyphs">6235</text>
<text class="as" x="476.2" y="647.6" text-anchor="middle">*</text>
<rect x="412.7" y="653.5" width="71.3" height="29.5" fill="#d2a997" stroke="#b9bec3" stroke-width="1.2" stroke-opacity="0.7"/>
<text class="n" x="422.2" y="676.7" textLength="39.2" lengthAdjust="spacingAndGlyphs">6237</text>
<rect x="226.5" y="892" width="74" height="29.8" fill="#1f9650" stroke="#b9bec3" stroke-width="1.2" stroke-opacity="0.7"/>
<text class="n" x="237.1" y="915.6" textLength="39.2" lengthAdjust="spacingAndGlyphs">6553</text>
<rect x="226.5" y="921.8" width="74" height="29.8" fill="#1f9650" stroke="#b9bec3" stroke-width="1.2" stroke-opacity="0.7"/>
<text class="n" x="237.1" y="945.3" textLength="39.2" lengthAdjust="spacingAndGlyphs">6555</text>
<rect x="226.5" y="951.5" width="74" height="29.8" fill="#1f9650" stroke="#b9bec3" stroke-width="1.2" stroke-opacity="0.7"/>
<text class="n" x="237.1" y="975.1" textLength="39.2" lengthAdjust="spacingAndGlyphs">6557</text>
<rect x="226.5" y="981.2" width="74" height="29.8" fill="#1f9650" stroke="#b9bec3" stroke-width="1.2" stroke-opacity="0.7"/>
<text class="n" x="237.1" y="1004.8" textLength="39.2" lengthAdjust="spacingAndGlyphs">6559</text>
<rect x="226.5" y="1011" width="74" height="29.8" fill="#1f9650" stroke="#b9bec3" stroke-width="1.2" stroke-opacity="0.7"/>
<text class="n" x="237.1" y="1034.6" textLength="39.2" lengthAdjust="spacingAndGlyphs">6561</text>
<rect x="226.5" y="1040.8" width="74" height="29.8" fill="#1f9650" stroke="#b9bec3" stroke-width="1.2" stroke-opacity="0.7"/>
<text class="n" x="237.1" y="1064.3" textLength="39.2" lengthAdjust="spacingAndGlyphs">6563</text>
<rect x="226.5" y="1070.5" width="74" height="150.9" fill="#e6e6e6" stroke="#9a9a9a" stroke-width="1" stroke-opacity="0.6"/>
<rect x="226.5" y="1221.4" width="74" height="29.6" fill="#1f9650" stroke="#b9bec3" stroke-width="1.2" stroke-opacity="0.7"/>
<text class="n" x="237.1" y="1244.9" textLength="39.2" lengthAdjust="spacingAndGlyphs">6575</text>
<rect x="226.5" y="1251" width="74" height="30" fill="#1f9650" stroke="#b9bec3" stroke-width="1.2" stroke-opacity="0.7"/>
<text class="n" x="237.1" y="1274.7" textLength="39.2" lengthAdjust="spacingAndGlyphs">6577</text>
<rect x="226.5" y="1281" width="74" height="30" fill="#1f9650" stroke="#b9bec3" stroke-width="1.2" stroke-opacity="0.7"/>
<text class="n" x="237.1" y="1304.7" textLength="39.2" lengthAdjust="spacingAndGlyphs">6579</text>
<rect x="226.5" y="1311" width="74" height="30" fill="#1f9650" stroke="#b9bec3" stroke-width="1.2" stroke-opacity="0.7"/>
<text class="n" x="237.1" y="1334.7" textLength="39.2" lengthAdjust="spacingAndGlyphs">6581</text>
<rect x="226.5" y="1341" width="74" height="29.6" fill="#b8b6d5" stroke="#b9bec3" stroke-width="1.2" stroke-opacity="0.7"/>
<text class="n" x="237.1" y="1364.5" textLength="39.2" lengthAdjust="spacingAndGlyphs">6583</text>
<rect x="226.5" y="1370.6" width="74" height="30.6" fill="#e6e6e6" stroke="#9a9a9a" stroke-width="1" stroke-opacity="0.6"/>
<rect x="226.5" y="1401.2" width="74" height="30" fill="#1f9650" stroke="#b9bec3" stroke-width="1.2" stroke-opacity="0.7"/>
<text class="n" x="237.1" y="1424.9" textLength="39.2" lengthAdjust="spacingAndGlyphs">6587</text>
<rect x="226.5" y="1431.2" width="74" height="30" fill="#1f9650" stroke="#b9bec3" stroke-width="1.2" stroke-opacity="0.7"/>
<text class="n" x="237.1" y="1454.9" textLength="39.2" lengthAdjust="spacingAndGlyphs">6589</text>
<rect x="226.5" y="1461.1" width="74" height="30" fill="#1f9650" stroke="#b9bec3" stroke-width="1.2" stroke-opacity="0.7"/>
<text class="n" x="237.1" y="1484.8" textLength="39.2" lengthAdjust="spacingAndGlyphs">6591</text>
<rect x="226.5" y="1491.1" width="74" height="30" fill="#1f9650" stroke="#b9bec3" stroke-width="1.2" stroke-opacity="0.7"/>
<text class="n" x="237.1" y="1514.8" textLength="39.2" lengthAdjust="spacingAndGlyphs">6593</text>
<rect x="226.5" y="1521.1" width="74" height="30" fill="#1f9650" stroke="#b9bec3" stroke-width="1.2" stroke-opacity="0.7"/>
<text class="n" x="237.1" y="1544.8" textLength="39.2" lengthAdjust="spacingAndGlyphs">6595</text>
<rect x="226.5" y="1551" width="74" height="30" fill="#1f9650" stroke="#b9bec3" stroke-width="1.2" stroke-opacity="0.7"/>
<text class="n" x="237.1" y="1574.7" textLength="39.2" lengthAdjust="spacingAndGlyphs">6597</text>
<rect x="226.5" y="1581" width="74" height="90" fill="#e6e6e6" stroke="#9a9a9a" stroke-width="1" stroke-opacity="0.6"/>
<rect x="226.5" y="1671" width="74" height="30" fill="#1f9650" stroke="#b9bec3" stroke-width="1.2" stroke-opacity="0.7"/>
<text class="n" x="237.1" y="1694.7" textLength="39.2" lengthAdjust="spacingAndGlyphs">6605</text>
<rect x="226.5" y="1701" width="74" height="29.5" fill="#1f9650" stroke="#b9bec3" stroke-width="1.2" stroke-opacity="0.7"/>
<text class="n" x="237.1" y="1724.5" textLength="39.2" lengthAdjust="spacingAndGlyphs">6607</text>
<rect x="226.5" y="1730.5" width="74" height="29.5" fill="#1f9650" stroke="#b9bec3" stroke-width="1.2" stroke-opacity="0.7"/>
<text class="n" x="237.1" y="1754" textLength="39.2" lengthAdjust="spacingAndGlyphs">6609</text>
<rect x="226.5" y="1760" width="74" height="29.7" fill="#1f9650" stroke="#b9bec3" stroke-width="1.2" stroke-opacity="0.7"/>
<text class="n" x="237.1" y="1783.5" textLength="39.2" lengthAdjust="spacingAndGlyphs">6611</text>
<rect x="226.5" y="1789.7" width="74" height="78.1" fill="#b8b6d5" stroke="#b9bec3" stroke-width="1.2" stroke-opacity="0.7"/>
<rect x="226.5" y="1867.8" width="74" height="40.7" fill="#e6e6e6" stroke="#9a9a9a" stroke-width="1" stroke-opacity="0.6"/>
<rect x="226.5" y="1908.5" width="74" height="29.1" fill="#1f9650" stroke="#b9bec3" stroke-width="1.2" stroke-opacity="0.7"/>
<text class="n" x="237.1" y="1931.8" textLength="39.2" lengthAdjust="spacingAndGlyphs">6621</text>
<rect x="226.5" y="1937.6" width="74" height="28.9" fill="#1f9650" stroke="#b9bec3" stroke-width="1.2" stroke-opacity="0.7"/>
<text class="n" x="237.1" y="1960.8" textLength="39.2" lengthAdjust="spacingAndGlyphs">6623</text>
<rect x="226.5" y="1966.5" width="74" height="28.8" fill="#1f9650" stroke="#b9bec3" stroke-width="1.2" stroke-opacity="0.7"/>
<text class="n" x="237.1" y="1989.6" textLength="39.2" lengthAdjust="spacingAndGlyphs">6625</text>
<rect x="226.5" y="1995.3" width="74" height="29.5" fill="#1f9650" stroke="#b9bec3" stroke-width="1.2" stroke-opacity="0.7"/>
<text class="n" x="237.1" y="2018.8" textLength="39.2" lengthAdjust="spacingAndGlyphs">6627</text>
<rect x="226.5" y="2024.8" width="74" height="32" fill="#b8b6d5" stroke="#b9bec3" stroke-width="1.2" stroke-opacity="0.7"/>
<text class="n" x="237.1" y="2049.5" textLength="39.2" lengthAdjust="spacingAndGlyphs">6629</text>
<rect x="226.5" y="2056.8" width="74" height="33" fill="#b8b6d5" stroke="#b9bec3" stroke-width="1.2" stroke-opacity="0.7"/>
<text class="n" x="237.1" y="2082" textLength="39.2" lengthAdjust="spacingAndGlyphs">6631</text>
<rect x="418.6" y="892" width="74.2" height="29.8" fill="#1f9650" stroke="#b9bec3" stroke-width="1.2" stroke-opacity="0.7"/>
<text class="n" x="430.1" y="915.6" textLength="39.2" lengthAdjust="spacingAndGlyphs">6253</text>
<rect x="418.6" y="921.8" width="74.2" height="29.8" fill="#1f9650" stroke="#b9bec3" stroke-width="1.2" stroke-opacity="0.7"/>
<text class="n" x="430.1" y="945.3" textLength="39.2" lengthAdjust="spacingAndGlyphs">6255</text>
<rect x="418.6" y="951.5" width="74.2" height="29.8" fill="#1f9650" stroke="#b9bec3" stroke-width="1.2" stroke-opacity="0.7"/>
<text class="n" x="430.1" y="975.1" textLength="39.2" lengthAdjust="spacingAndGlyphs">6257</text>
<rect x="418.6" y="981.2" width="74.2" height="29.8" fill="#1f9650" stroke="#b9bec3" stroke-width="1.2" stroke-opacity="0.7"/>
<text class="n" x="430.1" y="1004.8" textLength="39.2" lengthAdjust="spacingAndGlyphs">6259</text>
<rect x="418.6" y="1011" width="74.2" height="29.8" fill="#1f9650" stroke="#b9bec3" stroke-width="1.2" stroke-opacity="0.7"/>
<text class="n" x="430.1" y="1034.6" textLength="39.2" lengthAdjust="spacingAndGlyphs">6261</text>
<rect x="418.6" y="1040.8" width="74.2" height="29.8" fill="#1f9650" stroke="#b9bec3" stroke-width="1.2" stroke-opacity="0.7"/>
<text class="n" x="430.1" y="1064.3" textLength="39.2" lengthAdjust="spacingAndGlyphs">6263</text>
<rect x="418.6" y="1070.5" width="74.2" height="150.9" fill="#e6e6e6" stroke="#9a9a9a" stroke-width="1" stroke-opacity="0.6"/>
<rect x="418.6" y="1221.4" width="74.2" height="29.6" fill="#b8b6d5" stroke="#b9bec3" stroke-width="1.2" stroke-opacity="0.7"/>
<text class="n" x="430.1" y="1244.9" textLength="39.2" lengthAdjust="spacingAndGlyphs">6275</text>
<rect x="418.6" y="1251" width="74.2" height="30" fill="#b8b6d5" stroke="#b9bec3" stroke-width="1.2" stroke-opacity="0.7"/>
<text class="n" x="430.1" y="1274.7" textLength="39.2" lengthAdjust="spacingAndGlyphs">6277</text>
<rect x="418.6" y="1281" width="74.2" height="30" fill="#1f9650" stroke="#b9bec3" stroke-width="1.2" stroke-opacity="0.7"/>
<text class="n" x="430.1" y="1304.7" textLength="39.2" lengthAdjust="spacingAndGlyphs">6279</text>
<rect x="418.6" y="1311" width="74.2" height="30" fill="#1f9650" stroke="#b9bec3" stroke-width="1.2" stroke-opacity="0.7"/>
<text class="n" x="430.1" y="1334.7" textLength="39.2" lengthAdjust="spacingAndGlyphs">6281</text>
<rect x="418.6" y="1341" width="74.2" height="29.6" fill="#b8b6d5" stroke="#b9bec3" stroke-width="1.2" stroke-opacity="0.7"/>
<text class="n" x="430.1" y="1364.5" textLength="39.2" lengthAdjust="spacingAndGlyphs">6283</text>
<rect x="418.6" y="1370.6" width="74.2" height="30.6" fill="#e6e6e6" stroke="#9a9a9a" stroke-width="1" stroke-opacity="0.6"/>
<rect x="418.6" y="1401.2" width="74.2" height="30" fill="#1f9650" stroke="#b9bec3" stroke-width="1.2" stroke-opacity="0.7"/>
<text class="n" x="430.1" y="1424.9" textLength="39.2" lengthAdjust="spacingAndGlyphs">6287</text>
<rect x="418.6" y="1431.2" width="74.2" height="30" fill="#1f9650" stroke="#b9bec3" stroke-width="1.2" stroke-opacity="0.7"/>
<text class="n" x="430.1" y="1454.9" textLength="39.2" lengthAdjust="spacingAndGlyphs">6289</text>
<rect x="418.6" y="1461.1" width="74.2" height="30" fill="#1f9650" stroke="#b9bec3" stroke-width="1.2" stroke-opacity="0.7"/>
<text class="n" x="430.1" y="1484.8" textLength="39.2" lengthAdjust="spacingAndGlyphs">6291</text>
<rect x="418.6" y="1491.1" width="74.2" height="30" fill="#1f9650" stroke="#b9bec3" stroke-width="1.2" stroke-opacity="0.7"/>
<text class="n" x="430.1" y="1514.8" textLength="39.2" lengthAdjust="spacingAndGlyphs">6293</text>
<rect x="418.6" y="1521.1" width="74.2" height="30" fill="#1f9650" stroke="#b9bec3" stroke-width="1.2" stroke-opacity="0.7"/>
<text class="n" x="430.1" y="1544.8" textLength="39.2" lengthAdjust="spacingAndGlyphs">6295</text>
<rect x="418.6" y="1551" width="74.2" height="30" fill="#1f9650" stroke="#b9bec3" stroke-width="1.2" stroke-opacity="0.7"/>
<text class="n" x="430.1" y="1574.7" textLength="39.2" lengthAdjust="spacingAndGlyphs">6297</text>
<rect x="418.6" y="1581" width="74.2" height="90" fill="#e6e6e6" stroke="#9a9a9a" stroke-width="1" stroke-opacity="0.6"/>
<rect x="418.6" y="1671" width="74.2" height="30" fill="#1f9650" stroke="#b9bec3" stroke-width="1.2" stroke-opacity="0.7"/>
<text class="n" x="430.1" y="1694.7" textLength="39.2" lengthAdjust="spacingAndGlyphs">6305</text>
<rect x="418.6" y="1701" width="74.2" height="29.5" fill="#1f9650" stroke="#b9bec3" stroke-width="1.2" stroke-opacity="0.7"/>
<text class="n" x="430.1" y="1724.5" textLength="39.2" lengthAdjust="spacingAndGlyphs">6307</text>
<rect x="418.6" y="1730.5" width="74.2" height="29.5" fill="#1f9650" stroke="#b9bec3" stroke-width="1.2" stroke-opacity="0.7"/>
<text class="n" x="430.1" y="1754" textLength="39.2" lengthAdjust="spacingAndGlyphs">6309</text>
<rect x="418.6" y="1760" width="74.2" height="29.7" fill="#1f9650" stroke="#b9bec3" stroke-width="1.2" stroke-opacity="0.7"/>
<text class="n" x="430.1" y="1783.5" textLength="39.2" lengthAdjust="spacingAndGlyphs">6311</text>
<rect x="418.6" y="1789.7" width="74.2" height="78.1" fill="#b8b6d5" stroke="#b9bec3" stroke-width="1.2" stroke-opacity="0.7"/>
<rect x="418.6" y="1867.8" width="74.2" height="40.7" fill="#e6e6e6" stroke="#9a9a9a" stroke-width="1" stroke-opacity="0.6"/>
<rect x="418.6" y="1908.5" width="74.2" height="29.1" fill="#1f9650" stroke="#b9bec3" stroke-width="1.2" stroke-opacity="0.7"/>
<text class="n" x="430.1" y="1931.8" textLength="39.2" lengthAdjust="spacingAndGlyphs">6321</text>
<rect x="418.6" y="1937.6" width="74.2" height="28.9" fill="#1f9650" stroke="#b9bec3" stroke-width="1.2" stroke-opacity="0.7"/>
<text class="n" x="430.1" y="1960.8" textLength="39.2" lengthAdjust="spacingAndGlyphs">6323</text>
<rect x="418.6" y="1966.5" width="74.2" height="28.8" fill="#b8b6d5" stroke="#b9bec3" stroke-width="1.2" stroke-opacity="0.7"/>
<text class="n" x="430.1" y="1989.6" textLength="39.2" lengthAdjust="spacingAndGlyphs">6325</text>
<rect x="418.6" y="1995.3" width="74.2" height="29.5" fill="#b8b6d5" stroke="#b9bec3" stroke-width="1.2" stroke-opacity="0.7"/>
<text class="n" x="430.1" y="2018.8" textLength="39.2" lengthAdjust="spacingAndGlyphs">6327</text>
<rect x="418.6" y="2024.8" width="74.2" height="32" fill="#b8b6d5" stroke="#b9bec3" stroke-width="1.2" stroke-opacity="0.7"/>
<text class="n" x="430.1" y="2049.5" textLength="39.2" lengthAdjust="spacingAndGlyphs">6329</text>
<rect x="418.6" y="2056.8" width="74.2" height="33" fill="#b8b6d5" stroke="#b9bec3" stroke-width="1.2" stroke-opacity="0.7"/>
<text class="n" x="430.1" y="2082" textLength="39.2" lengthAdjust="spacingAndGlyphs">6331</text>
<text class="wc2" x="262.7" y="1844.2" text-anchor="middle">&#9855;</text>
<text class="n" x="237.1" y="1864.3" textLength="39.2" lengthAdjust="spacingAndGlyphs">6615</text>
<text class="n" x="237.1" y="1813.6" textLength="39.2" lengthAdjust="spacingAndGlyphs">6613</text>
<text class="wc2" x="454.8" y="1844.2" text-anchor="middle">&#9855;</text>
<text class="n" x="430.1" y="1864.3" textLength="39.2" lengthAdjust="spacingAndGlyphs">6315</text>
<text class="n" x="430.1" y="1813.6" textLength="39.2" lengthAdjust="spacingAndGlyphs">6313</text>
<rect x="234.6" y="2453.8" width="71.8" height="26.9" fill="#d2a997" stroke="#b9bec3" stroke-width="1.2" stroke-opacity="0.7"/>
<text class="n" x="245.6" y="2475.9" textLength="39.2" lengthAdjust="spacingAndGlyphs">6657</text>
<text class="as" x="298.6" y="2476.1" text-anchor="middle">*</text>
<rect x="234.6" y="2480.7" width="71.8" height="29.6" fill="#d2a997" stroke="#b9bec3" stroke-width="1.2" stroke-opacity="0.7"/>
<text class="n" x="245.6" y="2504.2" textLength="39.2" lengthAdjust="spacingAndGlyphs">6659</text>
<text class="as" x="298.6" y="2504.3" text-anchor="middle">*</text>
<rect x="234.6" y="2510.3" width="71.8" height="29.7" fill="#d2a997" stroke="#b9bec3" stroke-width="1.2" stroke-opacity="0.7"/>
<text class="n" x="245.6" y="2533.8" textLength="39.2" lengthAdjust="spacingAndGlyphs">6661</text>
<text class="as" x="298.6" y="2534" text-anchor="middle">*</text>
<rect x="234.6" y="2540" width="71.8" height="29.5" fill="#d2a997" stroke="#b9bec3" stroke-width="1.2" stroke-opacity="0.7"/>
<text class="n" x="245.6" y="2563.4" textLength="39.2" lengthAdjust="spacingAndGlyphs">6663</text>
<rect x="234.6" y="2569.5" width="71.8" height="29.3" fill="#d2a997" stroke="#b9bec3" stroke-width="1.2" stroke-opacity="0.7"/>
<text class="n" x="245.6" y="2592.8" textLength="39.2" lengthAdjust="spacingAndGlyphs">6665</text>
<rect x="234.6" y="2598.8" width="71.8" height="29.4" fill="#d2a997" stroke="#b9bec3" stroke-width="1.2" stroke-opacity="0.7"/>
<text class="n" x="245.6" y="2622.2" textLength="39.2" lengthAdjust="spacingAndGlyphs">6667</text>
<rect x="234.6" y="2628.2" width="71.8" height="29.3" fill="#d2a997" stroke="#b9bec3" stroke-width="1.2" stroke-opacity="0.7"/>
<text class="n" x="245.6" y="2651.5" textLength="39.2" lengthAdjust="spacingAndGlyphs">6669</text>
<rect x="234.6" y="2657.5" width="71.8" height="29.3" fill="#d2a997" stroke="#b9bec3" stroke-width="1.2" stroke-opacity="0.7"/>
<text class="n" x="245.6" y="2680.8" textLength="39.2" lengthAdjust="spacingAndGlyphs">6671</text>
<rect x="234.6" y="2686.8" width="71.8" height="28.2" fill="#d2a997" stroke="#b9bec3" stroke-width="1.2" stroke-opacity="0.7"/>
<text class="n" x="245.6" y="2709.6" textLength="39.2" lengthAdjust="spacingAndGlyphs">6673</text>
<text class="as" x="298.6" y="2709.7" text-anchor="middle">*</text>
<rect x="234.6" y="2715" width="71.8" height="27.4" fill="#d2a997" stroke="#b9bec3" stroke-width="1.2" stroke-opacity="0.7"/>
<text class="n" x="245.6" y="2737.4" textLength="39.2" lengthAdjust="spacingAndGlyphs">6675</text>
<text class="as" x="298.6" y="2737.5" text-anchor="middle">*</text>
<rect x="234.6" y="2742.4" width="71.8" height="27.4" fill="#d2a997" stroke="#b9bec3" stroke-width="1.2" stroke-opacity="0.7"/>
<text class="n" x="245.6" y="2764.8" textLength="39.2" lengthAdjust="spacingAndGlyphs">6677</text>
<rect x="234.6" y="2852.5" width="71.8" height="27.5" fill="#d2a997" stroke="#b9bec3" stroke-width="1.2" stroke-opacity="0.7"/>
<text class="n" x="245.6" y="2874.9" textLength="39.2" lengthAdjust="spacingAndGlyphs">6685</text>
<rect x="234.6" y="2880" width="71.8" height="27.6" fill="#d2a997" stroke="#b9bec3" stroke-width="1.2" stroke-opacity="0.7"/>
<text class="n" x="245.6" y="2902.5" textLength="39.2" lengthAdjust="spacingAndGlyphs">6687</text>
<rect x="234.6" y="2907.6" width="71.8" height="27.4" fill="#d2a997" stroke="#b9bec3" stroke-width="1.2" stroke-opacity="0.7"/>
<text class="n" x="245.6" y="2930" textLength="39.2" lengthAdjust="spacingAndGlyphs">6689</text>
<rect x="234.6" y="2935" width="71.8" height="28" fill="#d2a997" stroke="#b9bec3" stroke-width="1.2" stroke-opacity="0.7"/>
<text class="n" x="245.6" y="2957.7" textLength="39.2" lengthAdjust="spacingAndGlyphs">6691</text>
<rect x="234.6" y="2963" width="71.8" height="27.7" fill="#d2a997" stroke="#b9bec3" stroke-width="1.2" stroke-opacity="0.7"/>
<text class="n" x="245.6" y="2985.5" textLength="39.2" lengthAdjust="spacingAndGlyphs">6693</text>
<rect x="234.6" y="2990.7" width="71.8" height="27.8" fill="#d2a997" stroke="#b9bec3" stroke-width="1.2" stroke-opacity="0.7"/>
<text class="n" x="245.6" y="3013.3" textLength="39.2" lengthAdjust="spacingAndGlyphs">6695</text>
<rect x="234.6" y="3018.5" width="71.8" height="27.9" fill="#1f9650" stroke="#b9bec3" stroke-width="1.2" stroke-opacity="0.7"/>
<text class="n" x="245.6" y="3041.1" textLength="39.2" lengthAdjust="spacingAndGlyphs">6697</text>
<rect x="234.6" y="3046.4" width="71.8" height="27.6" fill="#1f9650" stroke="#b9bec3" stroke-width="1.2" stroke-opacity="0.7"/>
<text class="n" x="245.6" y="3068.9" textLength="39.2" lengthAdjust="spacingAndGlyphs">6699</text>
<rect x="234.6" y="3074" width="71.8" height="28.3" fill="#d2a997" stroke="#b9bec3" stroke-width="1.2" stroke-opacity="0.7"/>
<text class="n" x="245.6" y="3096.8" textLength="39.2" lengthAdjust="spacingAndGlyphs">6703</text>
<rect x="234.6" y="3102.3" width="71.8" height="31.3" fill="#d2a997" stroke="#b9bec3" stroke-width="1.2" stroke-opacity="0.7"/>
<text class="n" x="245.6" y="3126.6" textLength="39.2" lengthAdjust="spacingAndGlyphs">6707</text>
<rect x="412.7" y="2453.8" width="71.3" height="26.9" fill="#d2a997" stroke="#b9bec3" stroke-width="1.2" stroke-opacity="0.7"/>
<text class="n" x="421.7" y="2475.9" textLength="39.2" lengthAdjust="spacingAndGlyphs">6357</text>
<text class="as" x="475.7" y="2476.1" text-anchor="middle">*</text>
<rect x="412.7" y="2480.7" width="71.3" height="29.6" fill="#d2a997" stroke="#b9bec3" stroke-width="1.2" stroke-opacity="0.7"/>
<text class="n" x="421.7" y="2504.2" textLength="39.2" lengthAdjust="spacingAndGlyphs">6359</text>
<text class="as" x="475.7" y="2504.3" text-anchor="middle">*</text>
<rect x="412.7" y="2510.3" width="71.3" height="29.7" fill="#d2a997" stroke="#b9bec3" stroke-width="1.2" stroke-opacity="0.7"/>
<text class="n" x="421.7" y="2533.8" textLength="39.2" lengthAdjust="spacingAndGlyphs">6361</text>
<text class="as" x="475.7" y="2534" text-anchor="middle">*</text>
<rect x="412.7" y="2540" width="71.3" height="29.5" fill="#d2a997" stroke="#b9bec3" stroke-width="1.2" stroke-opacity="0.7"/>
<text class="n" x="421.7" y="2563.4" textLength="39.2" lengthAdjust="spacingAndGlyphs" style="fill:#4a4a4f;stroke:none">6363</text>
<rect x="412.7" y="2569.5" width="71.3" height="29.3" fill="#d2a997" stroke="#b9bec3" stroke-width="1.2" stroke-opacity="0.7"/>
<text class="n" x="421.7" y="2592.8" textLength="39.2" lengthAdjust="spacingAndGlyphs">6365</text>
<rect x="412.7" y="2598.8" width="71.3" height="29.4" fill="#d2a997" stroke="#b9bec3" stroke-width="1.2" stroke-opacity="0.7"/>
<text class="n" x="421.7" y="2622.2" textLength="39.2" lengthAdjust="spacingAndGlyphs">6367</text>
<rect x="412.7" y="2628.2" width="71.3" height="29.3" fill="#d2a997" stroke="#b9bec3" stroke-width="1.2" stroke-opacity="0.7"/>
<text class="n" x="421.7" y="2651.5" textLength="39.2" lengthAdjust="spacingAndGlyphs">6369</text>
<rect x="412.7" y="2657.5" width="71.3" height="29.3" fill="#d2a997" stroke="#b9bec3" stroke-width="1.2" stroke-opacity="0.7"/>
<text class="n" x="421.7" y="2680.8" textLength="39.2" lengthAdjust="spacingAndGlyphs">6371</text>
<rect x="412.7" y="2686.8" width="71.3" height="28.2" fill="#d2a997" stroke="#b9bec3" stroke-width="1.2" stroke-opacity="0.7"/>
<text class="n" x="421.7" y="2709.6" textLength="39.2" lengthAdjust="spacingAndGlyphs">6373</text>
<text class="as" x="475.7" y="2709.7" text-anchor="middle">*</text>
<rect x="412.7" y="2715" width="71.3" height="27.4" fill="#d2a997" stroke="#b9bec3" stroke-width="1.2" stroke-opacity="0.7"/>
<text class="n" x="421.7" y="2737.4" textLength="39.2" lengthAdjust="spacingAndGlyphs">6375</text>
<text class="as" x="475.7" y="2737.5" text-anchor="middle">*</text>
<rect x="412.7" y="2742.4" width="71.3" height="27.9" fill="#d2a997" stroke="#b9bec3" stroke-width="1.2" stroke-opacity="0.7"/>
<text class="n" x="421.7" y="2765.1" textLength="39.2" lengthAdjust="spacingAndGlyphs">6377</text>
<rect x="412.7" y="2770.3" width="71.3" height="81.2" fill="#e6e6e6" stroke="#9a9a9a" stroke-width="1" stroke-opacity="0.6"/>
<rect x="412.7" y="2851.5" width="71.3" height="28.5" fill="#d2a997" stroke="#b9bec3" stroke-width="1.2" stroke-opacity="0.7"/>
<text class="n" x="421.7" y="2874.4" textLength="39.2" lengthAdjust="spacingAndGlyphs">6385</text>
<rect x="412.7" y="2880" width="71.3" height="27.6" fill="#d2a997" stroke="#b9bec3" stroke-width="1.2" stroke-opacity="0.7"/>
<text class="n" x="421.7" y="2902.5" textLength="39.2" lengthAdjust="spacingAndGlyphs">6387</text>
<text class="as" x="475.7" y="2902.6" text-anchor="middle">*</text>
<rect x="412.7" y="2907.6" width="71.3" height="27.4" fill="#d2a997" stroke="#b9bec3" stroke-width="1.2" stroke-opacity="0.7"/>
<text class="n" x="421.7" y="2930" textLength="39.2" lengthAdjust="spacingAndGlyphs">6389</text>
<rect x="412.7" y="2935" width="71.3" height="27.8" fill="#d2a997" stroke="#b9bec3" stroke-width="1.2" stroke-opacity="0.7"/>
<text class="n" x="421.7" y="2957.6" textLength="39.2" lengthAdjust="spacingAndGlyphs">6391</text>
<rect x="412.7" y="2962.8" width="71.3" height="28.2" fill="#1f9650" stroke="#b9bec3" stroke-width="1.2" stroke-opacity="0.7"/>
<text class="n" x="421.7" y="2985.6" textLength="39.2" lengthAdjust="spacingAndGlyphs">6393</text>
<rect x="412.7" y="2991" width="71.3" height="27.5" fill="#1f9650" stroke="#b9bec3" stroke-width="1.2" stroke-opacity="0.7"/>
<text class="n" x="421.7" y="3013.4" textLength="39.2" lengthAdjust="spacingAndGlyphs">6395</text>
<rect x="412.7" y="3018.5" width="71.3" height="27.9" fill="#1f9650" stroke="#b9bec3" stroke-width="1.2" stroke-opacity="0.7"/>
<text class="n" x="421.7" y="3041.1" textLength="39.2" lengthAdjust="spacingAndGlyphs">6397</text>
<rect x="412.7" y="3046.4" width="71.3" height="27.8" fill="#1f9650" stroke="#b9bec3" stroke-width="1.2" stroke-opacity="0.7"/>
<text class="n" x="421.7" y="3069" textLength="39.2" lengthAdjust="spacingAndGlyphs">6399</text>
<rect x="412.7" y="3074.2" width="71.3" height="28.1" fill="#d2a997" stroke="#b9bec3" stroke-width="1.2" stroke-opacity="0.7"/>
<text class="n" x="421.7" y="3096.9" textLength="39.2" lengthAdjust="spacingAndGlyphs">6403</text>
<rect x="412.7" y="3102.3" width="71.3" height="32.7" fill="#d2a997" stroke="#b9bec3" stroke-width="1.2" stroke-opacity="0.7"/>
<text class="n" x="421.7" y="3127.3" textLength="39.2" lengthAdjust="spacingAndGlyphs">6407</text>
<rect x="312" y="2422" width="72" height="30.5" fill="#d2a997" stroke="#b9bec3" stroke-width="1.2" stroke-opacity="0.7"/>
<text class="n" x="322" y="2445.7" textLength="39.2" lengthAdjust="spacingAndGlyphs">6451</text>
<rect x="312" y="2452.5" width="72" height="30" fill="#d2a997" stroke="#b9bec3" stroke-width="1.2" stroke-opacity="0.7"/>
<text class="n" x="318" y="2475.9" textLength="39.2" lengthAdjust="spacingAndGlyphs">6453</text>
<text class="as" x="374" y="2476.3" text-anchor="middle">*</text>
<rect x="312" y="2482.5" width="72" height="29.4" fill="#d2a997" stroke="#b9bec3" stroke-width="1.2" stroke-opacity="0.7"/>
<text class="n" x="318" y="2505.6" textLength="39.2" lengthAdjust="spacingAndGlyphs">6455</text>
<text class="as" x="374" y="2506" text-anchor="middle">*</text>
<rect x="312" y="2511.9" width="72" height="29" fill="#d2a997" stroke="#b9bec3" stroke-width="1.2" stroke-opacity="0.7"/>
<text class="n" x="322" y="2534.8" textLength="39.2" lengthAdjust="spacingAndGlyphs">6457</text>
<rect x="312" y="2540.9" width="72" height="29.3" fill="#d2a997" stroke="#b9bec3" stroke-width="1.2" stroke-opacity="0.7"/>
<text class="n" x="318" y="2564" textLength="39.2" lengthAdjust="spacingAndGlyphs">6459</text>
<text class="as" x="374" y="2564.4" text-anchor="middle">*</text>
<rect x="312" y="2570.2" width="72" height="29" fill="#d2a997" stroke="#b9bec3" stroke-width="1.2" stroke-opacity="0.7"/>
<text class="n" x="318" y="2593.1" textLength="39.2" lengthAdjust="spacingAndGlyphs">6461</text>
<text class="as" x="374" y="2593.5" text-anchor="middle">*</text>
<rect x="312" y="2599.2" width="72" height="29.4" fill="#d2a997" stroke="#b9bec3" stroke-width="1.2" stroke-opacity="0.7"/>
<text class="n" x="322" y="2622.3" textLength="39.2" lengthAdjust="spacingAndGlyphs">6463</text>
<rect x="312" y="2628.6" width="72" height="27.9" fill="#e6e6e6" stroke="#9a9a9a" stroke-width="1" stroke-opacity="0.6"/>
<rect x="312" y="2656.5" width="72" height="28.3" fill="#d2a997" stroke="#b9bec3" stroke-width="1.2" stroke-opacity="0.7"/>
<text class="n" x="322" y="2679.1" textLength="39.2" lengthAdjust="spacingAndGlyphs">6467</text>
<rect x="312" y="2684.8" width="72" height="29.4" fill="#d2a997" stroke="#b9bec3" stroke-width="1.2" stroke-opacity="0.7"/>
<text class="n" x="322" y="2707.9" textLength="39.2" lengthAdjust="spacingAndGlyphs">6469</text>
<rect x="312" y="2714.2" width="72" height="27.2" fill="#d2a997" stroke="#b9bec3" stroke-width="1.2" stroke-opacity="0.7"/>
<text class="n" x="318" y="2736.2" textLength="39.2" lengthAdjust="spacingAndGlyphs">6471</text>
<text class="as" x="374" y="2736.6" text-anchor="middle">*</text>
<rect x="312" y="2741.4" width="72" height="27.9" fill="#d2a997" stroke="#b9bec3" stroke-width="1.2" stroke-opacity="0.7"/>
<text class="n" x="318" y="2763.8" textLength="39.2" lengthAdjust="spacingAndGlyphs">6473</text>
<text class="as" x="374" y="2764.2" text-anchor="middle">*</text>
<rect x="312" y="2852.5" width="72" height="28.2" fill="#d2a997" stroke="#b9bec3" stroke-width="1.2" stroke-opacity="0.7"/>
<text class="n" x="318" y="2875" textLength="39.2" lengthAdjust="spacingAndGlyphs">6481</text>
<text class="as" x="374" y="2875.4" text-anchor="middle">*</text>
<rect x="312" y="2880.7" width="72" height="27.3" fill="#d2a997" stroke="#b9bec3" stroke-width="1.2" stroke-opacity="0.7"/>
<text class="n" x="322" y="2902.8" textLength="39.2" lengthAdjust="spacingAndGlyphs">6483</text>
<rect x="312" y="2908" width="72" height="27.5" fill="#d2a997" stroke="#b9bec3" stroke-width="1.2" stroke-opacity="0.7"/>
<text class="n" x="322" y="2930.2" textLength="39.2" lengthAdjust="spacingAndGlyphs">6485</text>
<rect x="312" y="2935.5" width="72" height="27.3" fill="#d2a997" stroke="#b9bec3" stroke-width="1.2" stroke-opacity="0.7"/>
<text class="n" x="322" y="2957.6" textLength="39.2" lengthAdjust="spacingAndGlyphs">6487</text>
<rect x="312" y="2962.8" width="72" height="28.2" fill="#1f9650" stroke="#b9bec3" stroke-width="1.2" stroke-opacity="0.7"/>
<text class="n" x="322" y="2985.3" textLength="39.2" lengthAdjust="spacingAndGlyphs">6489</text>
<rect x="312" y="2991" width="72" height="27.3" fill="#1f9650" stroke="#b9bec3" stroke-width="1.2" stroke-opacity="0.7"/>
<text class="n" x="322" y="3013.1" textLength="39.2" lengthAdjust="spacingAndGlyphs">6491</text>
<rect x="312" y="3018.3" width="72" height="27.9" fill="#d2a997" stroke="#b9bec3" stroke-width="1.2" stroke-opacity="0.7"/>
<text class="n" x="322" y="3040.7" textLength="39.2" lengthAdjust="spacingAndGlyphs">6493</text>
<rect x="312" y="3046.2" width="72" height="28" fill="#e6e6e6" stroke="#9a9a9a" stroke-width="1" stroke-opacity="0.6"/>
<rect x="312" y="3074.2" width="72" height="28.2" fill="#d2a997" stroke="#b9bec3" stroke-width="1.2" stroke-opacity="0.7"/>
<text class="n" x="322" y="3096.7" textLength="39.2" lengthAdjust="spacingAndGlyphs">6497</text>
<rect x="312" y="3102.4" width="72" height="31.2" fill="#d2a997" stroke="#b9bec3" stroke-width="1.2" stroke-opacity="0.7"/>
<text class="n" x="322" y="3126.4" textLength="39.2" lengthAdjust="spacingAndGlyphs">6499</text>
<rect x="234.6" y="2769.5" width="149.4" height="83" fill="#e6e6e6" stroke="#9a9a9a" stroke-width="1" stroke-opacity="0.6"/>
<rect x="235.2" y="715.3" width="63" height="47.5" fill="#ecd08d"/>
<path d="M235.2 730.5 H298.2 M235.2 735.9 H298.2 M235.2 741.3 H298.2 M235.2 746.6 H298.2 M235.2 752 H298.2 M235.2 757.4 H298.2 M235.2 762.3 H298.2 M253.5 730.5 V762.8 M278.7 730.5 V762.8 " fill="none" stroke="#b3ab93" stroke-width="0.9"/>
<rect x="421" y="715.3" width="63" height="47.5" fill="#ecd08d"/>
<path d="M421 730.5 H484 M421 735.9 H484 M421 741.3 H484 M421 746.6 H484 M421 752 H484 M421 757.4 H484 M421 762.3 H484 M439.3 730.5 V762.8 M464.5 730.5 V762.8 " fill="none" stroke="#b3ab93" stroke-width="0.9"/>
<rect x="228.3" y="2262.4" width="63.7" height="47.8" fill="#ecd08d"/>
<path d="M228.3 2262.9 H292 M228.3 2267.8 H292 M228.3 2273.2 H292 M228.3 2278.7 H292 M228.3 2284.1 H292 M228.3 2289.5 H292 M228.3 2294.9 H292 M246.8 2262.4 V2294.9 M272.3 2262.4 V2294.9 " fill="none" stroke="#b3ab93" stroke-width="0.9"/>
<rect x="427.2" y="2262.4" width="63.7" height="47.8" fill="#ecd08d"/>
<path d="M427.2 2262.9 H490.9 M427.2 2267.8 H490.9 M427.2 2273.2 H490.9 M427.2 2278.7 H490.9 M427.2 2284.1 H490.9 M427.2 2289.5 H490.9 M427.2 2294.9 H490.9 M445.7 2262.4 V2294.9 M471.2 2262.4 V2294.9 " fill="none" stroke="#b3ab93" stroke-width="0.9"/>
<rect x="231.3" y="810.4" width="31" height="75.9" fill="#fff" stroke="#999" stroke-width="1" stroke-opacity="0.9"/>
<text class="el" text-anchor="middle" transform="translate(256.3 848.3) rotate(-90) scale(0.68 1)" x="0" y="0">ELEV.</text>
<rect x="457.4" y="810.4" width="30.9" height="75.9" fill="#fff" stroke="#999" stroke-width="1" stroke-opacity="0.9"/>
<text class="el" text-anchor="middle" transform="translate(482.4 848.3) rotate(-90) scale(0.68 1)" x="0" y="0">ELEV.</text>
<rect x="219.8" y="2125.8" width="29.8" height="79.8" fill="#fff" stroke="#999" stroke-width="1" stroke-opacity="0.9"/>
<text class="el" text-anchor="middle" transform="translate(244.2 2165.7) rotate(-90) scale(0.68 1)" x="0" y="0">ELEV.</text>
<rect x="469.7" y="2125.8" width="30.2" height="79.8" fill="#fff" stroke="#999" stroke-width="1" stroke-opacity="0.9"/>
<text class="el" text-anchor="middle" transform="translate(494.3 2165.7) rotate(-90) scale(0.68 1)" x="0" y="0">ELEV.</text>
<rect x="255.2" y="3153.6" width="210" height="80.4" fill="#046a38"/>
<rect x="178.4" y="3159.8" width="38.8" height="74.4" fill="#f3d3dc" stroke="#b9bec3" stroke-width="1.2" stroke-opacity="0.7"/>
<rect x="217.2" y="3159.8" width="38" height="74.4" fill="#f3d3dc" stroke="#b9bec3" stroke-width="1.2" stroke-opacity="0.7"/>
<rect x="465.2" y="3159.8" width="38.8" height="74.4" fill="#f3d3dc" stroke="#b9bec3" stroke-width="1.2" stroke-opacity="0.7"/>
<rect x="504" y="3159.8" width="39" height="74.4" fill="#f3d3dc" stroke="#b9bec3" stroke-width="1.2" stroke-opacity="0.7"/>
<text class="wb" x="342.2" y="3208.2" text-anchor="middle" textLength="40" lengthAdjust="spacingAndGlyphs">6414</text>
<text class="n" text-anchor="middle" transform="translate(210.4 3209) rotate(-90)" x="0" y="0" textLength="39.2" lengthAdjust="spacingAndGlyphs">6710</text>
<text class="dl" text-anchor="middle" transform="translate(197.6 3170.6) rotate(-90)" x="0" y="0">&#916;</text>
<rect x="202.8" y="3165.4" width="9.4" height="9.2" fill="#111"/>
<rect x="201.6" y="3168.2" width="7" height="7.4" fill="#fff" stroke="#111" stroke-width="1.7"/>
<text class="n" text-anchor="middle" transform="translate(249 3209) rotate(-90)" x="0" y="0" textLength="39.2" lengthAdjust="spacingAndGlyphs">6712</text>
<text class="dl" text-anchor="middle" transform="translate(236.2 3170.6) rotate(-90)" x="0" y="0">&#916;</text>
<rect x="241.4" y="3165.4" width="9.4" height="9.2" fill="#111"/>
<rect x="240.2" y="3168.2" width="7" height="7.4" fill="#fff" stroke="#111" stroke-width="1.7"/>
<text class="n" text-anchor="middle" transform="translate(497.4 3209) rotate(-90)" x="0" y="0" textLength="39.2" lengthAdjust="spacingAndGlyphs">6412</text>
<text class="dl" text-anchor="middle" transform="translate(484.6 3170.6) rotate(-90)" x="0" y="0">&#916;</text>
<rect x="489.8" y="3165.4" width="9.4" height="9.2" fill="#111"/>
<rect x="488.6" y="3168.2" width="7" height="7.4" fill="#fff" stroke="#111" stroke-width="1.7"/>
<text class="n" text-anchor="middle" transform="translate(536.2 3209) rotate(-90)" x="0" y="0" textLength="39.2" lengthAdjust="spacingAndGlyphs">6410</text>
<text class="dl" text-anchor="middle" transform="translate(523.4 3170.6) rotate(-90)" x="0" y="0">&#916;</text>
<rect x="528.6" y="3165.4" width="9.4" height="9.2" fill="#111"/>
<rect x="527.4" y="3168.2" width="7" height="7.4" fill="#fff" stroke="#111" stroke-width="1.7"/>
<rect x="389.6" y="3189.2" width="18.4" height="14" rx="2" fill="none" stroke="#fff" stroke-width="1.4"/>
<text class="smw" x="398.8" y="3200.6" text-anchor="middle">5+</text>
<rect x="418.4" y="3193.4" width="12" height="12" fill="#fff" stroke="#046a38" stroke-width="1"/>
<rect x="413.8" y="3189" width="12" height="12" fill="#fff" stroke="#046a38" stroke-width="1.4"/>
<path class="ar" d="M208.2 675 L204.4 681.5 L212 681.5 Z M208.2 695.5 L204.4 689 L212 689 Z"/>
<line x1="208.2" y1="680.5" x2="208.2" y2="690" stroke="#111" stroke-width="2.4"/>
<path class="ar" d="M207.6 1630.8 L203.8 1637.2 L211.4 1637.2 Z M207.6 1651.2 L203.8 1644.8 L211.4 1644.8 Z"/>
<line x1="207.6" y1="1636.2" x2="207.6" y2="1645.8" stroke="#111" stroke-width="2.4"/>
<path class="ar" d="M207.6 1690.8 L203.8 1697.2 L211.4 1697.2 Z M207.6 1711.2 L203.8 1704.8 L211.4 1704.8 Z"/>
<line x1="207.6" y1="1696.2" x2="207.6" y2="1705.8" stroke="#111" stroke-width="2.4"/>
<path class="ar" d="M207.6 1779.5 L203.8 1786 L211.4 1786 Z M207.6 1800 L203.8 1793.5 L211.4 1793.5 Z"/>
<line x1="207.6" y1="1785" x2="207.6" y2="1794.5" stroke="#111" stroke-width="2.4"/>
<path class="ar" d="M207.6 1868.8 L203.8 1875.2 L211.4 1875.2 Z M207.6 1889.2 L203.8 1882.8 L211.4 1882.8 Z"/>
<line x1="207.6" y1="1874.2" x2="207.6" y2="1883.8" stroke="#111" stroke-width="2.4"/>
<path class="ar" d="M207.6 2015 L203.8 2021.5 L211.4 2021.5 Z M207.6 2035.5 L203.8 2029 L211.4 2029 Z"/>
<line x1="207.6" y1="2020.5" x2="207.6" y2="2030" stroke="#111" stroke-width="2.4"/>
<path class="ar" d="M213.8 2617.6 L210 2624.1 L217.6 2624.1 Z M213.8 2638.1 L210 2631.6 L217.6 2631.6 Z"/>
<line x1="213.8" y1="2623.1" x2="213.8" y2="2632.6" stroke="#111" stroke-width="2.4"/>
<path class="ar" d="M213.4 2842.8 L209.6 2849.2 L217.2 2849.2 Z M213.4 2863.2 L209.6 2856.8 L217.2 2856.8 Z"/>
<line x1="213.4" y1="2848.2" x2="213.4" y2="2857.8" stroke="#111" stroke-width="2.4"/>
<path class="ar" d="M213.4 3008.8 L209.6 3015.2 L217.2 3015.2 Z M213.4 3029.2 L209.6 3022.8 L217.2 3022.8 Z"/>
<line x1="213.4" y1="3014.2" x2="213.4" y2="3023.8" stroke="#111" stroke-width="2.4"/>
<path class="ar" d="M503.6 644 L499.8 650.5 L507.4 650.5 Z M503.6 664.5 L499.8 658 L507.4 658 Z"/>
<line x1="503.6" y1="649.5" x2="503.6" y2="659" stroke="#111" stroke-width="2.4"/>
<path class="ar" d="M511.6 1630.8 L507.8 1637.2 L515.4 1637.2 Z M511.6 1651.2 L507.8 1644.8 L515.4 1644.8 Z"/>
<line x1="511.6" y1="1636.2" x2="511.6" y2="1645.8" stroke="#111" stroke-width="2.4"/>
<path class="ar" d="M511.6 1690.8 L507.8 1697.2 L515.4 1697.2 Z M511.6 1711.2 L507.8 1704.8 L515.4 1704.8 Z"/>
<line x1="511.6" y1="1696.2" x2="511.6" y2="1705.8" stroke="#111" stroke-width="2.4"/>
<path class="ar" d="M511.6 1779.5 L507.8 1786 L515.4 1786 Z M511.6 1800 L507.8 1793.5 L515.4 1793.5 Z"/>
<line x1="511.6" y1="1785" x2="511.6" y2="1794.5" stroke="#111" stroke-width="2.4"/>
<path class="ar" d="M511.6 1868.8 L507.8 1875.2 L515.4 1875.2 Z M511.6 1889.2 L507.8 1882.8 L515.4 1882.8 Z"/>
<line x1="511.6" y1="1874.2" x2="511.6" y2="1883.8" stroke="#111" stroke-width="2.4"/>
<path class="ar" d="M511.6 2015 L507.8 2021.5 L515.4 2021.5 Z M511.6 2035.5 L507.8 2029 L515.4 2029 Z"/>
<line x1="511.6" y1="2020.5" x2="511.6" y2="2030" stroke="#111" stroke-width="2.4"/>
<path class="ar" d="M505.3 2617.6 L501.5 2624.1 L509.1 2624.1 Z M505.3 2638.1 L501.5 2631.6 L509.1 2631.6 Z"/>
<line x1="505.3" y1="2623.1" x2="505.3" y2="2632.6" stroke="#111" stroke-width="2.4"/>
<path class="ar" d="M505.6 2842.8 L501.8 2849.2 L509.4 2849.2 Z M505.6 2863.2 L501.8 2856.8 L509.4 2856.8 Z"/>
<line x1="505.6" y1="2848.2" x2="505.6" y2="2857.8" stroke="#111" stroke-width="2.4"/>
<path class="ar" d="M505.6 3008.8 L501.8 3015.2 L509.4 3015.2 Z M505.6 3029.2 L501.8 3022.8 L509.4 3022.8 Z"/>
<line x1="505.6" y1="3014.2" x2="505.6" y2="3023.8" stroke="#111" stroke-width="2.4"/>
<path class="ar" d="M226.8 911.5 L223 918 L230.6 918 Z M226.8 932 L223 925.5 L230.6 925.5 Z"/>
<line x1="226.8" y1="917" x2="226.8" y2="926.5" stroke="#111" stroke-width="2.4"/>
<path class="ar" d="M226.8 971 L223 977.5 L230.6 977.5 Z M226.8 991.5 L223 985 L230.6 985 Z"/>
<line x1="226.8" y1="976.5" x2="226.8" y2="986" stroke="#111" stroke-width="2.4"/>
<path class="ar" d="M226.8 1030.5 L223 1037 L230.6 1037 Z M226.8 1051 L223 1044.5 L230.6 1044.5 Z"/>
<line x1="226.8" y1="1036" x2="226.8" y2="1045.5" stroke="#111" stroke-width="2.4"/>
<path class="ar" d="M226.8 1240.8 L223 1247.2 L230.6 1247.2 Z M226.8 1261.2 L223 1254.8 L230.6 1254.8 Z"/>
<line x1="226.8" y1="1246.2" x2="226.8" y2="1255.8" stroke="#111" stroke-width="2.4"/>
<path class="ar" d="M226.8 1300.8 L223 1307.2 L230.6 1307.2 Z M226.8 1321.2 L223 1314.8 L230.6 1314.8 Z"/>
<line x1="226.8" y1="1306.2" x2="226.8" y2="1315.8" stroke="#111" stroke-width="2.4"/>
<path class="ar" d="M226.8 1421 L223 1427.5 L230.6 1427.5 Z M226.8 1441.5 L223 1435 L230.6 1435 Z"/>
<line x1="226.8" y1="1426.5" x2="226.8" y2="1436" stroke="#111" stroke-width="2.4"/>
<path class="ar" d="M226.8 1480.8 L223 1487.3 L230.6 1487.3 Z M226.8 1501.3 L223 1494.8 L230.6 1494.8 Z"/>
<line x1="226.8" y1="1486.3" x2="226.8" y2="1495.8" stroke="#111" stroke-width="2.4"/>
<path class="ar" d="M226.8 1540.8 L223 1547.2 L230.6 1547.2 Z M226.8 1561.2 L223 1554.8 L230.6 1554.8 Z"/>
<line x1="226.8" y1="1546.2" x2="226.8" y2="1555.8" stroke="#111" stroke-width="2.4"/>
<path class="ar" d="M226.8 1690.8 L223 1697.2 L230.6 1697.2 Z M226.8 1711.2 L223 1704.8 L230.6 1704.8 Z"/>
<line x1="226.8" y1="1696.2" x2="226.8" y2="1705.8" stroke="#111" stroke-width="2.4"/>
<path class="ar" d="M226.8 1749.8 L223 1756.2 L230.6 1756.2 Z M226.8 1770.2 L223 1763.8 L230.6 1763.8 Z"/>
<line x1="226.8" y1="1755.2" x2="226.8" y2="1764.8" stroke="#111" stroke-width="2.4"/>
<path class="ar" d="M226.8 1927.3 L223 1933.8 L230.6 1933.8 Z M226.8 1947.8 L223 1941.3 L230.6 1941.3 Z"/>
<line x1="226.8" y1="1932.8" x2="226.8" y2="1942.3" stroke="#111" stroke-width="2.4"/>
<path class="ar" d="M226.8 1985 L223 1991.5 L230.6 1991.5 Z M226.8 2005.5 L223 1999 L230.6 1999 Z"/>
<line x1="226.8" y1="1990.5" x2="226.8" y2="2000" stroke="#111" stroke-width="2.4"/>
<path class="ar" d="M493.6 911.5 L489.8 918 L497.4 918 Z M493.6 932 L489.8 925.5 L497.4 925.5 Z"/>
<line x1="493.6" y1="917" x2="493.6" y2="926.5" stroke="#111" stroke-width="2.4"/>
<path class="ar" d="M493.6 971 L489.8 977.5 L497.4 977.5 Z M493.6 991.5 L489.8 985 L497.4 985 Z"/>
<line x1="493.6" y1="976.5" x2="493.6" y2="986" stroke="#111" stroke-width="2.4"/>
<path class="ar" d="M493.6 1030.5 L489.8 1037 L497.4 1037 Z M493.6 1051 L489.8 1044.5 L497.4 1044.5 Z"/>
<line x1="493.6" y1="1036" x2="493.6" y2="1045.5" stroke="#111" stroke-width="2.4"/>
<path class="ar" d="M493.6 1300.8 L489.8 1307.2 L497.4 1307.2 Z M493.6 1321.2 L489.8 1314.8 L497.4 1314.8 Z"/>
<line x1="493.6" y1="1306.2" x2="493.6" y2="1315.8" stroke="#111" stroke-width="2.4"/>
<path class="ar" d="M493.6 1421 L489.8 1427.5 L497.4 1427.5 Z M493.6 1441.5 L489.8 1435 L497.4 1435 Z"/>
<line x1="493.6" y1="1426.5" x2="493.6" y2="1436" stroke="#111" stroke-width="2.4"/>
<path class="ar" d="M493.6 1480.8 L489.8 1487.3 L497.4 1487.3 Z M493.6 1501.3 L489.8 1494.8 L497.4 1494.8 Z"/>
<line x1="493.6" y1="1486.3" x2="493.6" y2="1495.8" stroke="#111" stroke-width="2.4"/>
<path class="ar" d="M493.6 1540.8 L489.8 1547.2 L497.4 1547.2 Z M493.6 1561.2 L489.8 1554.8 L497.4 1554.8 Z"/>
<line x1="493.6" y1="1546.2" x2="493.6" y2="1555.8" stroke="#111" stroke-width="2.4"/>
<path class="ar" d="M493.6 1690.8 L489.8 1697.2 L497.4 1697.2 Z M493.6 1711.2 L489.8 1704.8 L497.4 1704.8 Z"/>
<line x1="493.6" y1="1696.2" x2="493.6" y2="1705.8" stroke="#111" stroke-width="2.4"/>
<path class="ar" d="M493.6 1749.8 L489.8 1756.2 L497.4 1756.2 Z M493.6 1770.2 L489.8 1763.8 L497.4 1763.8 Z"/>
<line x1="493.6" y1="1755.2" x2="493.6" y2="1764.8" stroke="#111" stroke-width="2.4"/>
<path class="ar" d="M493.6 1927.3 L489.8 1933.8 L497.4 1933.8 Z M493.6 1947.8 L489.8 1941.3 L497.4 1941.3 Z"/>
<line x1="493.6" y1="1932.8" x2="493.6" y2="1942.3" stroke="#111" stroke-width="2.4"/>
<path class="ar" d="M383.2 290.1 L379.4 296.6 L387 296.6 Z M383.2 310.6 L379.4 304.1 L387 304.1 Z"/>
<line x1="383.2" y1="295.6" x2="383.2" y2="305.1" stroke="#111" stroke-width="2.4"/>
<path class="ar" d="M383.2 408.1 L379.4 414.6 L387 414.6 Z M383.2 428.6 L379.4 422.1 L387 422.1 Z"/>
<line x1="383.2" y1="413.6" x2="383.2" y2="423.1" stroke="#111" stroke-width="2.4"/>
<path class="ar" d="M383.2 614.8 L379.4 621.2 L387 621.2 Z M383.2 635.2 L379.4 628.8 L387 628.8 Z"/>
<line x1="383.2" y1="620.2" x2="383.2" y2="629.8" stroke="#111" stroke-width="2.4"/>
<path class="ar" d="M484.2 319.1 L480.4 325.6 L488 325.6 Z M484.2 339.6 L480.4 333.1 L488 333.1 Z"/>
<line x1="484.2" y1="324.6" x2="484.2" y2="334.1" stroke="#111" stroke-width="2.4"/>
<path class="ar" d="M234.8 2470.4 L231 2476.9 L238.6 2476.9 Z M234.8 2490.9 L231 2484.4 L238.6 2484.4 Z"/>
<line x1="234.8" y1="2475.9" x2="234.8" y2="2485.4" stroke="#111" stroke-width="2.4"/>
<path class="ar" d="M234.8 3036.2 L231 3042.7 L238.6 3042.7 Z M234.8 3056.7 L231 3050.2 L238.6 3050.2 Z"/>
<line x1="234.8" y1="3041.7" x2="234.8" y2="3051.2" stroke="#111" stroke-width="2.4"/>
<path class="ar" d="M384.2 2980.8 L380.4 2987.2 L388 2987.2 Z M384.2 3001.2 L380.4 2994.8 L388 2994.8 Z"/>
<line x1="384.2" y1="2986.2" x2="384.2" y2="2995.8" stroke="#111" stroke-width="2.4"/>
<path class="ar" d="M484.4 2470.4 L480.6 2476.9 L488.2 2476.9 Z M484.4 2490.9 L480.6 2484.4 L488.2 2484.4 Z"/>
<line x1="484.4" y1="2475.9" x2="484.4" y2="2485.4" stroke="#111" stroke-width="2.4"/>
<path class="ar" d="M484.4 2980.8 L480.6 2987.2 L488.2 2987.2 Z M484.4 3001.2 L480.6 2994.8 L488.2 2994.8 Z"/>
<line x1="484.4" y1="2986.2" x2="484.4" y2="2995.8" stroke="#111" stroke-width="2.4"/>
<path class="ar" d="M484.4 3036.2 L480.6 3042.7 L488.2 3042.7 Z M484.4 3056.7 L480.6 3050.2 L488.2 3050.2 Z"/>
<line x1="484.4" y1="3041.7" x2="484.4" y2="3051.2" stroke="#111" stroke-width="2.4"/>
</svg>
</body></html>
